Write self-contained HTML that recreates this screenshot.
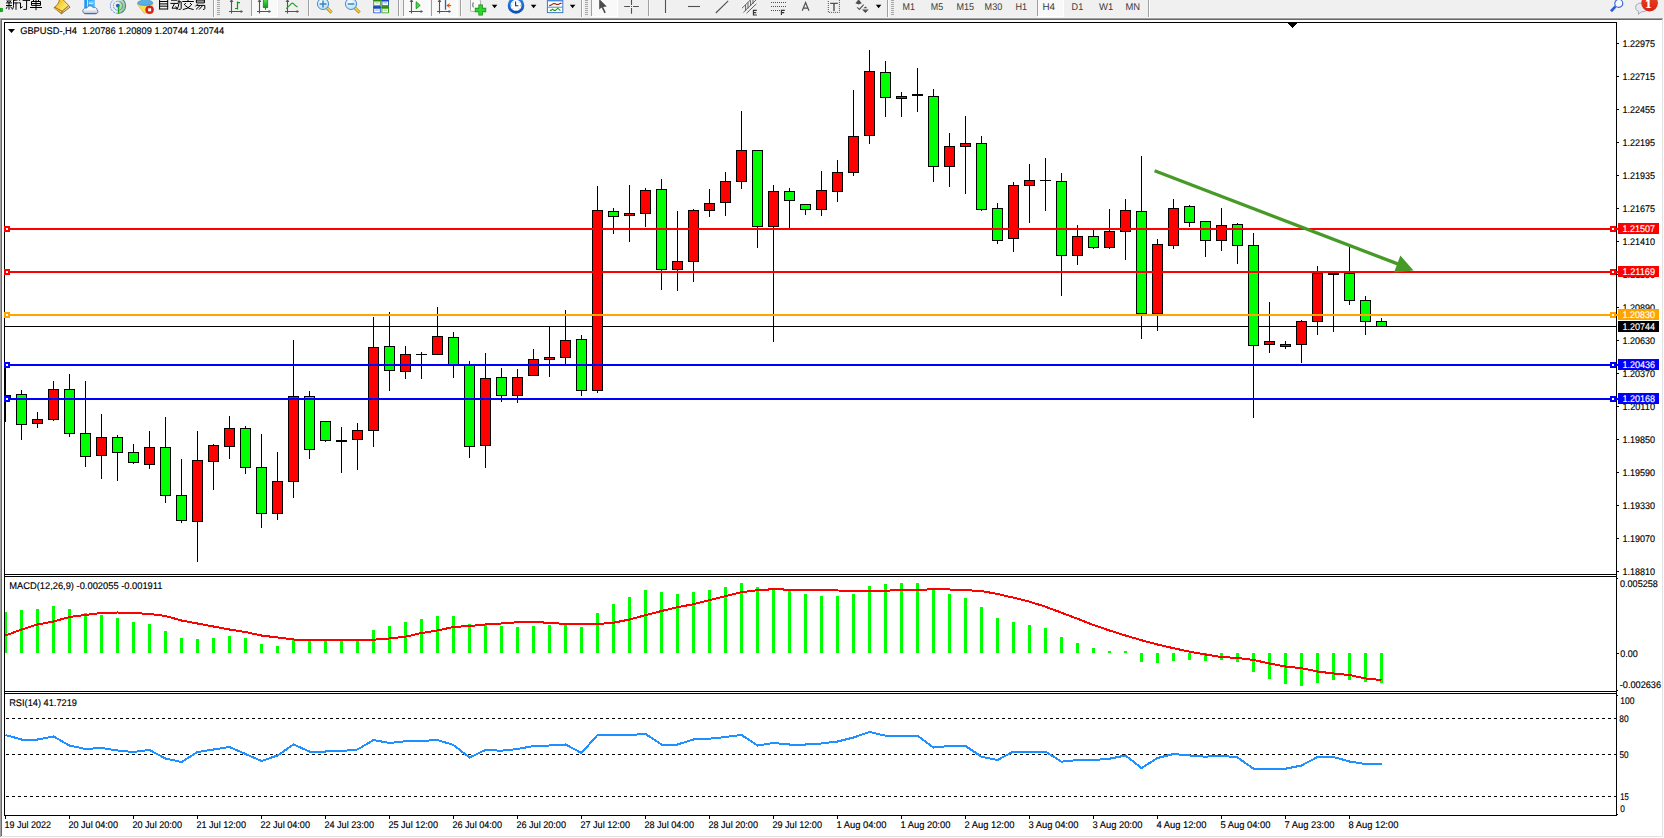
<!DOCTYPE html>
<html><head><meta charset="utf-8"><title>GBPUSD H4</title>
<style>
html,body{margin:0;padding:0;background:#fff;width:1664px;height:838px;overflow:hidden}
svg{display:block;position:absolute;left:0;top:0;font-family:"Liberation Sans",sans-serif}
text{text-rendering:geometricPrecision;paint-order:stroke;stroke-width:0.15px}
</style></head><body>
<svg width="1664" height="838" viewBox="0 0 1664 838" shape-rendering="crispEdges">
<rect x="0" y="0" width="1664" height="838" fill="#fff"/>
<rect x="0" y="0" width="1664" height="17" fill="#f0f0f0"/>
<rect x="0" y="17" width="1664" height="1" fill="#f4f4f4"/>
<rect x="0" y="18" width="1663" height="1" fill="#a0a0a0"/>
<rect x="1" y="19" width="1661" height="1" fill="#696969"/>
<rect x="0" y="19" width="1" height="818" fill="#a0a0a0"/>
<rect x="1" y="20" width="1" height="816" fill="#696969"/>
<rect x="1662" y="19" width="1" height="818" fill="#e3e3e3"/>
<rect x="1663" y="18" width="1" height="820" fill="#fff"/>
<rect x="1" y="836" width="1662" height="1" fill="#e3e3e3"/>
<rect x="0" y="837" width="1664" height="1" fill="#fff"/>
<rect x="4" y="22" width="1613" height="1" fill="#000"/>
<rect x="4" y="574" width="1613" height="1" fill="#000"/>
<rect x="4" y="576" width="1613" height="1" fill="#000"/>
<rect x="4" y="691" width="1613" height="1" fill="#000"/>
<rect x="4" y="693" width="1613" height="1" fill="#000"/>
<rect x="4" y="815" width="1613" height="1" fill="#000"/>
<rect x="4" y="22" width="1" height="794" fill="#000"/>
<rect x="1616" y="22" width="1" height="794" fill="#000"/>
<rect x="1288" y="23" width="9" height="1" fill="#000"/>
<rect x="1289" y="24" width="7" height="1" fill="#000"/>
<rect x="1290" y="25" width="5" height="1" fill="#000"/>
<rect x="1291" y="26" width="3" height="1" fill="#000"/>
<rect x="1292" y="27" width="1" height="1" fill="#000"/>
<rect x="6" y="718" width="3" height="1" fill="#000"/>
<rect x="12" y="718" width="3" height="1" fill="#000"/>
<rect x="18" y="718" width="3" height="1" fill="#000"/>
<rect x="24" y="718" width="3" height="1" fill="#000"/>
<rect x="30" y="718" width="3" height="1" fill="#000"/>
<rect x="36" y="718" width="3" height="1" fill="#000"/>
<rect x="42" y="718" width="3" height="1" fill="#000"/>
<rect x="48" y="718" width="3" height="1" fill="#000"/>
<rect x="54" y="718" width="3" height="1" fill="#000"/>
<rect x="60" y="718" width="3" height="1" fill="#000"/>
<rect x="66" y="718" width="3" height="1" fill="#000"/>
<rect x="72" y="718" width="3" height="1" fill="#000"/>
<rect x="78" y="718" width="3" height="1" fill="#000"/>
<rect x="84" y="718" width="3" height="1" fill="#000"/>
<rect x="90" y="718" width="3" height="1" fill="#000"/>
<rect x="96" y="718" width="3" height="1" fill="#000"/>
<rect x="102" y="718" width="3" height="1" fill="#000"/>
<rect x="108" y="718" width="3" height="1" fill="#000"/>
<rect x="114" y="718" width="3" height="1" fill="#000"/>
<rect x="120" y="718" width="3" height="1" fill="#000"/>
<rect x="126" y="718" width="3" height="1" fill="#000"/>
<rect x="132" y="718" width="3" height="1" fill="#000"/>
<rect x="138" y="718" width="3" height="1" fill="#000"/>
<rect x="144" y="718" width="3" height="1" fill="#000"/>
<rect x="150" y="718" width="3" height="1" fill="#000"/>
<rect x="156" y="718" width="3" height="1" fill="#000"/>
<rect x="162" y="718" width="3" height="1" fill="#000"/>
<rect x="168" y="718" width="3" height="1" fill="#000"/>
<rect x="174" y="718" width="3" height="1" fill="#000"/>
<rect x="180" y="718" width="3" height="1" fill="#000"/>
<rect x="186" y="718" width="3" height="1" fill="#000"/>
<rect x="192" y="718" width="3" height="1" fill="#000"/>
<rect x="198" y="718" width="3" height="1" fill="#000"/>
<rect x="204" y="718" width="3" height="1" fill="#000"/>
<rect x="210" y="718" width="3" height="1" fill="#000"/>
<rect x="216" y="718" width="3" height="1" fill="#000"/>
<rect x="222" y="718" width="3" height="1" fill="#000"/>
<rect x="228" y="718" width="3" height="1" fill="#000"/>
<rect x="234" y="718" width="3" height="1" fill="#000"/>
<rect x="240" y="718" width="3" height="1" fill="#000"/>
<rect x="246" y="718" width="3" height="1" fill="#000"/>
<rect x="252" y="718" width="3" height="1" fill="#000"/>
<rect x="258" y="718" width="3" height="1" fill="#000"/>
<rect x="264" y="718" width="3" height="1" fill="#000"/>
<rect x="270" y="718" width="3" height="1" fill="#000"/>
<rect x="276" y="718" width="3" height="1" fill="#000"/>
<rect x="282" y="718" width="3" height="1" fill="#000"/>
<rect x="288" y="718" width="3" height="1" fill="#000"/>
<rect x="294" y="718" width="3" height="1" fill="#000"/>
<rect x="300" y="718" width="3" height="1" fill="#000"/>
<rect x="306" y="718" width="3" height="1" fill="#000"/>
<rect x="312" y="718" width="3" height="1" fill="#000"/>
<rect x="318" y="718" width="3" height="1" fill="#000"/>
<rect x="324" y="718" width="3" height="1" fill="#000"/>
<rect x="330" y="718" width="3" height="1" fill="#000"/>
<rect x="336" y="718" width="3" height="1" fill="#000"/>
<rect x="342" y="718" width="3" height="1" fill="#000"/>
<rect x="348" y="718" width="3" height="1" fill="#000"/>
<rect x="354" y="718" width="3" height="1" fill="#000"/>
<rect x="360" y="718" width="3" height="1" fill="#000"/>
<rect x="366" y="718" width="3" height="1" fill="#000"/>
<rect x="372" y="718" width="3" height="1" fill="#000"/>
<rect x="378" y="718" width="3" height="1" fill="#000"/>
<rect x="384" y="718" width="3" height="1" fill="#000"/>
<rect x="390" y="718" width="3" height="1" fill="#000"/>
<rect x="396" y="718" width="3" height="1" fill="#000"/>
<rect x="402" y="718" width="3" height="1" fill="#000"/>
<rect x="408" y="718" width="3" height="1" fill="#000"/>
<rect x="414" y="718" width="3" height="1" fill="#000"/>
<rect x="420" y="718" width="3" height="1" fill="#000"/>
<rect x="426" y="718" width="3" height="1" fill="#000"/>
<rect x="432" y="718" width="3" height="1" fill="#000"/>
<rect x="438" y="718" width="3" height="1" fill="#000"/>
<rect x="444" y="718" width="3" height="1" fill="#000"/>
<rect x="450" y="718" width="3" height="1" fill="#000"/>
<rect x="456" y="718" width="3" height="1" fill="#000"/>
<rect x="462" y="718" width="3" height="1" fill="#000"/>
<rect x="468" y="718" width="3" height="1" fill="#000"/>
<rect x="474" y="718" width="3" height="1" fill="#000"/>
<rect x="480" y="718" width="3" height="1" fill="#000"/>
<rect x="486" y="718" width="3" height="1" fill="#000"/>
<rect x="492" y="718" width="3" height="1" fill="#000"/>
<rect x="498" y="718" width="3" height="1" fill="#000"/>
<rect x="504" y="718" width="3" height="1" fill="#000"/>
<rect x="510" y="718" width="3" height="1" fill="#000"/>
<rect x="516" y="718" width="3" height="1" fill="#000"/>
<rect x="522" y="718" width="3" height="1" fill="#000"/>
<rect x="528" y="718" width="3" height="1" fill="#000"/>
<rect x="534" y="718" width="3" height="1" fill="#000"/>
<rect x="540" y="718" width="3" height="1" fill="#000"/>
<rect x="546" y="718" width="3" height="1" fill="#000"/>
<rect x="552" y="718" width="3" height="1" fill="#000"/>
<rect x="558" y="718" width="3" height="1" fill="#000"/>
<rect x="564" y="718" width="3" height="1" fill="#000"/>
<rect x="570" y="718" width="3" height="1" fill="#000"/>
<rect x="576" y="718" width="3" height="1" fill="#000"/>
<rect x="582" y="718" width="3" height="1" fill="#000"/>
<rect x="588" y="718" width="3" height="1" fill="#000"/>
<rect x="594" y="718" width="3" height="1" fill="#000"/>
<rect x="600" y="718" width="3" height="1" fill="#000"/>
<rect x="606" y="718" width="3" height="1" fill="#000"/>
<rect x="612" y="718" width="3" height="1" fill="#000"/>
<rect x="618" y="718" width="3" height="1" fill="#000"/>
<rect x="624" y="718" width="3" height="1" fill="#000"/>
<rect x="630" y="718" width="3" height="1" fill="#000"/>
<rect x="636" y="718" width="3" height="1" fill="#000"/>
<rect x="642" y="718" width="3" height="1" fill="#000"/>
<rect x="648" y="718" width="3" height="1" fill="#000"/>
<rect x="654" y="718" width="3" height="1" fill="#000"/>
<rect x="660" y="718" width="3" height="1" fill="#000"/>
<rect x="666" y="718" width="3" height="1" fill="#000"/>
<rect x="672" y="718" width="3" height="1" fill="#000"/>
<rect x="678" y="718" width="3" height="1" fill="#000"/>
<rect x="684" y="718" width="3" height="1" fill="#000"/>
<rect x="690" y="718" width="3" height="1" fill="#000"/>
<rect x="696" y="718" width="3" height="1" fill="#000"/>
<rect x="702" y="718" width="3" height="1" fill="#000"/>
<rect x="708" y="718" width="3" height="1" fill="#000"/>
<rect x="714" y="718" width="3" height="1" fill="#000"/>
<rect x="720" y="718" width="3" height="1" fill="#000"/>
<rect x="726" y="718" width="3" height="1" fill="#000"/>
<rect x="732" y="718" width="3" height="1" fill="#000"/>
<rect x="738" y="718" width="3" height="1" fill="#000"/>
<rect x="744" y="718" width="3" height="1" fill="#000"/>
<rect x="750" y="718" width="3" height="1" fill="#000"/>
<rect x="756" y="718" width="3" height="1" fill="#000"/>
<rect x="762" y="718" width="3" height="1" fill="#000"/>
<rect x="768" y="718" width="3" height="1" fill="#000"/>
<rect x="774" y="718" width="3" height="1" fill="#000"/>
<rect x="780" y="718" width="3" height="1" fill="#000"/>
<rect x="786" y="718" width="3" height="1" fill="#000"/>
<rect x="792" y="718" width="3" height="1" fill="#000"/>
<rect x="798" y="718" width="3" height="1" fill="#000"/>
<rect x="804" y="718" width="3" height="1" fill="#000"/>
<rect x="810" y="718" width="3" height="1" fill="#000"/>
<rect x="816" y="718" width="3" height="1" fill="#000"/>
<rect x="822" y="718" width="3" height="1" fill="#000"/>
<rect x="828" y="718" width="3" height="1" fill="#000"/>
<rect x="834" y="718" width="3" height="1" fill="#000"/>
<rect x="840" y="718" width="3" height="1" fill="#000"/>
<rect x="846" y="718" width="3" height="1" fill="#000"/>
<rect x="852" y="718" width="3" height="1" fill="#000"/>
<rect x="858" y="718" width="3" height="1" fill="#000"/>
<rect x="864" y="718" width="3" height="1" fill="#000"/>
<rect x="870" y="718" width="3" height="1" fill="#000"/>
<rect x="876" y="718" width="3" height="1" fill="#000"/>
<rect x="882" y="718" width="3" height="1" fill="#000"/>
<rect x="888" y="718" width="3" height="1" fill="#000"/>
<rect x="894" y="718" width="3" height="1" fill="#000"/>
<rect x="900" y="718" width="3" height="1" fill="#000"/>
<rect x="906" y="718" width="3" height="1" fill="#000"/>
<rect x="912" y="718" width="3" height="1" fill="#000"/>
<rect x="918" y="718" width="3" height="1" fill="#000"/>
<rect x="924" y="718" width="3" height="1" fill="#000"/>
<rect x="930" y="718" width="3" height="1" fill="#000"/>
<rect x="936" y="718" width="3" height="1" fill="#000"/>
<rect x="942" y="718" width="3" height="1" fill="#000"/>
<rect x="948" y="718" width="3" height="1" fill="#000"/>
<rect x="954" y="718" width="3" height="1" fill="#000"/>
<rect x="960" y="718" width="3" height="1" fill="#000"/>
<rect x="966" y="718" width="3" height="1" fill="#000"/>
<rect x="972" y="718" width="3" height="1" fill="#000"/>
<rect x="978" y="718" width="3" height="1" fill="#000"/>
<rect x="984" y="718" width="3" height="1" fill="#000"/>
<rect x="990" y="718" width="3" height="1" fill="#000"/>
<rect x="996" y="718" width="3" height="1" fill="#000"/>
<rect x="1002" y="718" width="3" height="1" fill="#000"/>
<rect x="1008" y="718" width="3" height="1" fill="#000"/>
<rect x="1014" y="718" width="3" height="1" fill="#000"/>
<rect x="1020" y="718" width="3" height="1" fill="#000"/>
<rect x="1026" y="718" width="3" height="1" fill="#000"/>
<rect x="1032" y="718" width="3" height="1" fill="#000"/>
<rect x="1038" y="718" width="3" height="1" fill="#000"/>
<rect x="1044" y="718" width="3" height="1" fill="#000"/>
<rect x="1050" y="718" width="3" height="1" fill="#000"/>
<rect x="1056" y="718" width="3" height="1" fill="#000"/>
<rect x="1062" y="718" width="3" height="1" fill="#000"/>
<rect x="1068" y="718" width="3" height="1" fill="#000"/>
<rect x="1074" y="718" width="3" height="1" fill="#000"/>
<rect x="1080" y="718" width="3" height="1" fill="#000"/>
<rect x="1086" y="718" width="3" height="1" fill="#000"/>
<rect x="1092" y="718" width="3" height="1" fill="#000"/>
<rect x="1098" y="718" width="3" height="1" fill="#000"/>
<rect x="1104" y="718" width="3" height="1" fill="#000"/>
<rect x="1110" y="718" width="3" height="1" fill="#000"/>
<rect x="1116" y="718" width="3" height="1" fill="#000"/>
<rect x="1122" y="718" width="3" height="1" fill="#000"/>
<rect x="1128" y="718" width="3" height="1" fill="#000"/>
<rect x="1134" y="718" width="3" height="1" fill="#000"/>
<rect x="1140" y="718" width="3" height="1" fill="#000"/>
<rect x="1146" y="718" width="3" height="1" fill="#000"/>
<rect x="1152" y="718" width="3" height="1" fill="#000"/>
<rect x="1158" y="718" width="3" height="1" fill="#000"/>
<rect x="1164" y="718" width="3" height="1" fill="#000"/>
<rect x="1170" y="718" width="3" height="1" fill="#000"/>
<rect x="1176" y="718" width="3" height="1" fill="#000"/>
<rect x="1182" y="718" width="3" height="1" fill="#000"/>
<rect x="1188" y="718" width="3" height="1" fill="#000"/>
<rect x="1194" y="718" width="3" height="1" fill="#000"/>
<rect x="1200" y="718" width="3" height="1" fill="#000"/>
<rect x="1206" y="718" width="3" height="1" fill="#000"/>
<rect x="1212" y="718" width="3" height="1" fill="#000"/>
<rect x="1218" y="718" width="3" height="1" fill="#000"/>
<rect x="1224" y="718" width="3" height="1" fill="#000"/>
<rect x="1230" y="718" width="3" height="1" fill="#000"/>
<rect x="1236" y="718" width="3" height="1" fill="#000"/>
<rect x="1242" y="718" width="3" height="1" fill="#000"/>
<rect x="1248" y="718" width="3" height="1" fill="#000"/>
<rect x="1254" y="718" width="3" height="1" fill="#000"/>
<rect x="1260" y="718" width="3" height="1" fill="#000"/>
<rect x="1266" y="718" width="3" height="1" fill="#000"/>
<rect x="1272" y="718" width="3" height="1" fill="#000"/>
<rect x="1278" y="718" width="3" height="1" fill="#000"/>
<rect x="1284" y="718" width="3" height="1" fill="#000"/>
<rect x="1290" y="718" width="3" height="1" fill="#000"/>
<rect x="1296" y="718" width="3" height="1" fill="#000"/>
<rect x="1302" y="718" width="3" height="1" fill="#000"/>
<rect x="1308" y="718" width="3" height="1" fill="#000"/>
<rect x="1314" y="718" width="3" height="1" fill="#000"/>
<rect x="1320" y="718" width="3" height="1" fill="#000"/>
<rect x="1326" y="718" width="3" height="1" fill="#000"/>
<rect x="1332" y="718" width="3" height="1" fill="#000"/>
<rect x="1338" y="718" width="3" height="1" fill="#000"/>
<rect x="1344" y="718" width="3" height="1" fill="#000"/>
<rect x="1350" y="718" width="3" height="1" fill="#000"/>
<rect x="1356" y="718" width="3" height="1" fill="#000"/>
<rect x="1362" y="718" width="3" height="1" fill="#000"/>
<rect x="1368" y="718" width="3" height="1" fill="#000"/>
<rect x="1374" y="718" width="3" height="1" fill="#000"/>
<rect x="1380" y="718" width="3" height="1" fill="#000"/>
<rect x="1386" y="718" width="3" height="1" fill="#000"/>
<rect x="1392" y="718" width="3" height="1" fill="#000"/>
<rect x="1398" y="718" width="3" height="1" fill="#000"/>
<rect x="1404" y="718" width="3" height="1" fill="#000"/>
<rect x="1410" y="718" width="3" height="1" fill="#000"/>
<rect x="1416" y="718" width="3" height="1" fill="#000"/>
<rect x="1422" y="718" width="3" height="1" fill="#000"/>
<rect x="1428" y="718" width="3" height="1" fill="#000"/>
<rect x="1434" y="718" width="3" height="1" fill="#000"/>
<rect x="1440" y="718" width="3" height="1" fill="#000"/>
<rect x="1446" y="718" width="3" height="1" fill="#000"/>
<rect x="1452" y="718" width="3" height="1" fill="#000"/>
<rect x="1458" y="718" width="3" height="1" fill="#000"/>
<rect x="1464" y="718" width="3" height="1" fill="#000"/>
<rect x="1470" y="718" width="3" height="1" fill="#000"/>
<rect x="1476" y="718" width="3" height="1" fill="#000"/>
<rect x="1482" y="718" width="3" height="1" fill="#000"/>
<rect x="1488" y="718" width="3" height="1" fill="#000"/>
<rect x="1494" y="718" width="3" height="1" fill="#000"/>
<rect x="1500" y="718" width="3" height="1" fill="#000"/>
<rect x="1506" y="718" width="3" height="1" fill="#000"/>
<rect x="1512" y="718" width="3" height="1" fill="#000"/>
<rect x="1518" y="718" width="3" height="1" fill="#000"/>
<rect x="1524" y="718" width="3" height="1" fill="#000"/>
<rect x="1530" y="718" width="3" height="1" fill="#000"/>
<rect x="1536" y="718" width="3" height="1" fill="#000"/>
<rect x="1542" y="718" width="3" height="1" fill="#000"/>
<rect x="1548" y="718" width="3" height="1" fill="#000"/>
<rect x="1554" y="718" width="3" height="1" fill="#000"/>
<rect x="1560" y="718" width="3" height="1" fill="#000"/>
<rect x="1566" y="718" width="3" height="1" fill="#000"/>
<rect x="1572" y="718" width="3" height="1" fill="#000"/>
<rect x="1578" y="718" width="3" height="1" fill="#000"/>
<rect x="1584" y="718" width="3" height="1" fill="#000"/>
<rect x="1590" y="718" width="3" height="1" fill="#000"/>
<rect x="1596" y="718" width="3" height="1" fill="#000"/>
<rect x="1602" y="718" width="3" height="1" fill="#000"/>
<rect x="1608" y="718" width="3" height="1" fill="#000"/>
<rect x="1614" y="718" width="2" height="1" fill="#000"/>
<rect x="6" y="754" width="3" height="1" fill="#000"/>
<rect x="12" y="754" width="3" height="1" fill="#000"/>
<rect x="18" y="754" width="3" height="1" fill="#000"/>
<rect x="24" y="754" width="3" height="1" fill="#000"/>
<rect x="30" y="754" width="3" height="1" fill="#000"/>
<rect x="36" y="754" width="3" height="1" fill="#000"/>
<rect x="42" y="754" width="3" height="1" fill="#000"/>
<rect x="48" y="754" width="3" height="1" fill="#000"/>
<rect x="54" y="754" width="3" height="1" fill="#000"/>
<rect x="60" y="754" width="3" height="1" fill="#000"/>
<rect x="66" y="754" width="3" height="1" fill="#000"/>
<rect x="72" y="754" width="3" height="1" fill="#000"/>
<rect x="78" y="754" width="3" height="1" fill="#000"/>
<rect x="84" y="754" width="3" height="1" fill="#000"/>
<rect x="90" y="754" width="3" height="1" fill="#000"/>
<rect x="96" y="754" width="3" height="1" fill="#000"/>
<rect x="102" y="754" width="3" height="1" fill="#000"/>
<rect x="108" y="754" width="3" height="1" fill="#000"/>
<rect x="114" y="754" width="3" height="1" fill="#000"/>
<rect x="120" y="754" width="3" height="1" fill="#000"/>
<rect x="126" y="754" width="3" height="1" fill="#000"/>
<rect x="132" y="754" width="3" height="1" fill="#000"/>
<rect x="138" y="754" width="3" height="1" fill="#000"/>
<rect x="144" y="754" width="3" height="1" fill="#000"/>
<rect x="150" y="754" width="3" height="1" fill="#000"/>
<rect x="156" y="754" width="3" height="1" fill="#000"/>
<rect x="162" y="754" width="3" height="1" fill="#000"/>
<rect x="168" y="754" width="3" height="1" fill="#000"/>
<rect x="174" y="754" width="3" height="1" fill="#000"/>
<rect x="180" y="754" width="3" height="1" fill="#000"/>
<rect x="186" y="754" width="3" height="1" fill="#000"/>
<rect x="192" y="754" width="3" height="1" fill="#000"/>
<rect x="198" y="754" width="3" height="1" fill="#000"/>
<rect x="204" y="754" width="3" height="1" fill="#000"/>
<rect x="210" y="754" width="3" height="1" fill="#000"/>
<rect x="216" y="754" width="3" height="1" fill="#000"/>
<rect x="222" y="754" width="3" height="1" fill="#000"/>
<rect x="228" y="754" width="3" height="1" fill="#000"/>
<rect x="234" y="754" width="3" height="1" fill="#000"/>
<rect x="240" y="754" width="3" height="1" fill="#000"/>
<rect x="246" y="754" width="3" height="1" fill="#000"/>
<rect x="252" y="754" width="3" height="1" fill="#000"/>
<rect x="258" y="754" width="3" height="1" fill="#000"/>
<rect x="264" y="754" width="3" height="1" fill="#000"/>
<rect x="270" y="754" width="3" height="1" fill="#000"/>
<rect x="276" y="754" width="3" height="1" fill="#000"/>
<rect x="282" y="754" width="3" height="1" fill="#000"/>
<rect x="288" y="754" width="3" height="1" fill="#000"/>
<rect x="294" y="754" width="3" height="1" fill="#000"/>
<rect x="300" y="754" width="3" height="1" fill="#000"/>
<rect x="306" y="754" width="3" height="1" fill="#000"/>
<rect x="312" y="754" width="3" height="1" fill="#000"/>
<rect x="318" y="754" width="3" height="1" fill="#000"/>
<rect x="324" y="754" width="3" height="1" fill="#000"/>
<rect x="330" y="754" width="3" height="1" fill="#000"/>
<rect x="336" y="754" width="3" height="1" fill="#000"/>
<rect x="342" y="754" width="3" height="1" fill="#000"/>
<rect x="348" y="754" width="3" height="1" fill="#000"/>
<rect x="354" y="754" width="3" height="1" fill="#000"/>
<rect x="360" y="754" width="3" height="1" fill="#000"/>
<rect x="366" y="754" width="3" height="1" fill="#000"/>
<rect x="372" y="754" width="3" height="1" fill="#000"/>
<rect x="378" y="754" width="3" height="1" fill="#000"/>
<rect x="384" y="754" width="3" height="1" fill="#000"/>
<rect x="390" y="754" width="3" height="1" fill="#000"/>
<rect x="396" y="754" width="3" height="1" fill="#000"/>
<rect x="402" y="754" width="3" height="1" fill="#000"/>
<rect x="408" y="754" width="3" height="1" fill="#000"/>
<rect x="414" y="754" width="3" height="1" fill="#000"/>
<rect x="420" y="754" width="3" height="1" fill="#000"/>
<rect x="426" y="754" width="3" height="1" fill="#000"/>
<rect x="432" y="754" width="3" height="1" fill="#000"/>
<rect x="438" y="754" width="3" height="1" fill="#000"/>
<rect x="444" y="754" width="3" height="1" fill="#000"/>
<rect x="450" y="754" width="3" height="1" fill="#000"/>
<rect x="456" y="754" width="3" height="1" fill="#000"/>
<rect x="462" y="754" width="3" height="1" fill="#000"/>
<rect x="468" y="754" width="3" height="1" fill="#000"/>
<rect x="474" y="754" width="3" height="1" fill="#000"/>
<rect x="480" y="754" width="3" height="1" fill="#000"/>
<rect x="486" y="754" width="3" height="1" fill="#000"/>
<rect x="492" y="754" width="3" height="1" fill="#000"/>
<rect x="498" y="754" width="3" height="1" fill="#000"/>
<rect x="504" y="754" width="3" height="1" fill="#000"/>
<rect x="510" y="754" width="3" height="1" fill="#000"/>
<rect x="516" y="754" width="3" height="1" fill="#000"/>
<rect x="522" y="754" width="3" height="1" fill="#000"/>
<rect x="528" y="754" width="3" height="1" fill="#000"/>
<rect x="534" y="754" width="3" height="1" fill="#000"/>
<rect x="540" y="754" width="3" height="1" fill="#000"/>
<rect x="546" y="754" width="3" height="1" fill="#000"/>
<rect x="552" y="754" width="3" height="1" fill="#000"/>
<rect x="558" y="754" width="3" height="1" fill="#000"/>
<rect x="564" y="754" width="3" height="1" fill="#000"/>
<rect x="570" y="754" width="3" height="1" fill="#000"/>
<rect x="576" y="754" width="3" height="1" fill="#000"/>
<rect x="582" y="754" width="3" height="1" fill="#000"/>
<rect x="588" y="754" width="3" height="1" fill="#000"/>
<rect x="594" y="754" width="3" height="1" fill="#000"/>
<rect x="600" y="754" width="3" height="1" fill="#000"/>
<rect x="606" y="754" width="3" height="1" fill="#000"/>
<rect x="612" y="754" width="3" height="1" fill="#000"/>
<rect x="618" y="754" width="3" height="1" fill="#000"/>
<rect x="624" y="754" width="3" height="1" fill="#000"/>
<rect x="630" y="754" width="3" height="1" fill="#000"/>
<rect x="636" y="754" width="3" height="1" fill="#000"/>
<rect x="642" y="754" width="3" height="1" fill="#000"/>
<rect x="648" y="754" width="3" height="1" fill="#000"/>
<rect x="654" y="754" width="3" height="1" fill="#000"/>
<rect x="660" y="754" width="3" height="1" fill="#000"/>
<rect x="666" y="754" width="3" height="1" fill="#000"/>
<rect x="672" y="754" width="3" height="1" fill="#000"/>
<rect x="678" y="754" width="3" height="1" fill="#000"/>
<rect x="684" y="754" width="3" height="1" fill="#000"/>
<rect x="690" y="754" width="3" height="1" fill="#000"/>
<rect x="696" y="754" width="3" height="1" fill="#000"/>
<rect x="702" y="754" width="3" height="1" fill="#000"/>
<rect x="708" y="754" width="3" height="1" fill="#000"/>
<rect x="714" y="754" width="3" height="1" fill="#000"/>
<rect x="720" y="754" width="3" height="1" fill="#000"/>
<rect x="726" y="754" width="3" height="1" fill="#000"/>
<rect x="732" y="754" width="3" height="1" fill="#000"/>
<rect x="738" y="754" width="3" height="1" fill="#000"/>
<rect x="744" y="754" width="3" height="1" fill="#000"/>
<rect x="750" y="754" width="3" height="1" fill="#000"/>
<rect x="756" y="754" width="3" height="1" fill="#000"/>
<rect x="762" y="754" width="3" height="1" fill="#000"/>
<rect x="768" y="754" width="3" height="1" fill="#000"/>
<rect x="774" y="754" width="3" height="1" fill="#000"/>
<rect x="780" y="754" width="3" height="1" fill="#000"/>
<rect x="786" y="754" width="3" height="1" fill="#000"/>
<rect x="792" y="754" width="3" height="1" fill="#000"/>
<rect x="798" y="754" width="3" height="1" fill="#000"/>
<rect x="804" y="754" width="3" height="1" fill="#000"/>
<rect x="810" y="754" width="3" height="1" fill="#000"/>
<rect x="816" y="754" width="3" height="1" fill="#000"/>
<rect x="822" y="754" width="3" height="1" fill="#000"/>
<rect x="828" y="754" width="3" height="1" fill="#000"/>
<rect x="834" y="754" width="3" height="1" fill="#000"/>
<rect x="840" y="754" width="3" height="1" fill="#000"/>
<rect x="846" y="754" width="3" height="1" fill="#000"/>
<rect x="852" y="754" width="3" height="1" fill="#000"/>
<rect x="858" y="754" width="3" height="1" fill="#000"/>
<rect x="864" y="754" width="3" height="1" fill="#000"/>
<rect x="870" y="754" width="3" height="1" fill="#000"/>
<rect x="876" y="754" width="3" height="1" fill="#000"/>
<rect x="882" y="754" width="3" height="1" fill="#000"/>
<rect x="888" y="754" width="3" height="1" fill="#000"/>
<rect x="894" y="754" width="3" height="1" fill="#000"/>
<rect x="900" y="754" width="3" height="1" fill="#000"/>
<rect x="906" y="754" width="3" height="1" fill="#000"/>
<rect x="912" y="754" width="3" height="1" fill="#000"/>
<rect x="918" y="754" width="3" height="1" fill="#000"/>
<rect x="924" y="754" width="3" height="1" fill="#000"/>
<rect x="930" y="754" width="3" height="1" fill="#000"/>
<rect x="936" y="754" width="3" height="1" fill="#000"/>
<rect x="942" y="754" width="3" height="1" fill="#000"/>
<rect x="948" y="754" width="3" height="1" fill="#000"/>
<rect x="954" y="754" width="3" height="1" fill="#000"/>
<rect x="960" y="754" width="3" height="1" fill="#000"/>
<rect x="966" y="754" width="3" height="1" fill="#000"/>
<rect x="972" y="754" width="3" height="1" fill="#000"/>
<rect x="978" y="754" width="3" height="1" fill="#000"/>
<rect x="984" y="754" width="3" height="1" fill="#000"/>
<rect x="990" y="754" width="3" height="1" fill="#000"/>
<rect x="996" y="754" width="3" height="1" fill="#000"/>
<rect x="1002" y="754" width="3" height="1" fill="#000"/>
<rect x="1008" y="754" width="3" height="1" fill="#000"/>
<rect x="1014" y="754" width="3" height="1" fill="#000"/>
<rect x="1020" y="754" width="3" height="1" fill="#000"/>
<rect x="1026" y="754" width="3" height="1" fill="#000"/>
<rect x="1032" y="754" width="3" height="1" fill="#000"/>
<rect x="1038" y="754" width="3" height="1" fill="#000"/>
<rect x="1044" y="754" width="3" height="1" fill="#000"/>
<rect x="1050" y="754" width="3" height="1" fill="#000"/>
<rect x="1056" y="754" width="3" height="1" fill="#000"/>
<rect x="1062" y="754" width="3" height="1" fill="#000"/>
<rect x="1068" y="754" width="3" height="1" fill="#000"/>
<rect x="1074" y="754" width="3" height="1" fill="#000"/>
<rect x="1080" y="754" width="3" height="1" fill="#000"/>
<rect x="1086" y="754" width="3" height="1" fill="#000"/>
<rect x="1092" y="754" width="3" height="1" fill="#000"/>
<rect x="1098" y="754" width="3" height="1" fill="#000"/>
<rect x="1104" y="754" width="3" height="1" fill="#000"/>
<rect x="1110" y="754" width="3" height="1" fill="#000"/>
<rect x="1116" y="754" width="3" height="1" fill="#000"/>
<rect x="1122" y="754" width="3" height="1" fill="#000"/>
<rect x="1128" y="754" width="3" height="1" fill="#000"/>
<rect x="1134" y="754" width="3" height="1" fill="#000"/>
<rect x="1140" y="754" width="3" height="1" fill="#000"/>
<rect x="1146" y="754" width="3" height="1" fill="#000"/>
<rect x="1152" y="754" width="3" height="1" fill="#000"/>
<rect x="1158" y="754" width="3" height="1" fill="#000"/>
<rect x="1164" y="754" width="3" height="1" fill="#000"/>
<rect x="1170" y="754" width="3" height="1" fill="#000"/>
<rect x="1176" y="754" width="3" height="1" fill="#000"/>
<rect x="1182" y="754" width="3" height="1" fill="#000"/>
<rect x="1188" y="754" width="3" height="1" fill="#000"/>
<rect x="1194" y="754" width="3" height="1" fill="#000"/>
<rect x="1200" y="754" width="3" height="1" fill="#000"/>
<rect x="1206" y="754" width="3" height="1" fill="#000"/>
<rect x="1212" y="754" width="3" height="1" fill="#000"/>
<rect x="1218" y="754" width="3" height="1" fill="#000"/>
<rect x="1224" y="754" width="3" height="1" fill="#000"/>
<rect x="1230" y="754" width="3" height="1" fill="#000"/>
<rect x="1236" y="754" width="3" height="1" fill="#000"/>
<rect x="1242" y="754" width="3" height="1" fill="#000"/>
<rect x="1248" y="754" width="3" height="1" fill="#000"/>
<rect x="1254" y="754" width="3" height="1" fill="#000"/>
<rect x="1260" y="754" width="3" height="1" fill="#000"/>
<rect x="1266" y="754" width="3" height="1" fill="#000"/>
<rect x="1272" y="754" width="3" height="1" fill="#000"/>
<rect x="1278" y="754" width="3" height="1" fill="#000"/>
<rect x="1284" y="754" width="3" height="1" fill="#000"/>
<rect x="1290" y="754" width="3" height="1" fill="#000"/>
<rect x="1296" y="754" width="3" height="1" fill="#000"/>
<rect x="1302" y="754" width="3" height="1" fill="#000"/>
<rect x="1308" y="754" width="3" height="1" fill="#000"/>
<rect x="1314" y="754" width="3" height="1" fill="#000"/>
<rect x="1320" y="754" width="3" height="1" fill="#000"/>
<rect x="1326" y="754" width="3" height="1" fill="#000"/>
<rect x="1332" y="754" width="3" height="1" fill="#000"/>
<rect x="1338" y="754" width="3" height="1" fill="#000"/>
<rect x="1344" y="754" width="3" height="1" fill="#000"/>
<rect x="1350" y="754" width="3" height="1" fill="#000"/>
<rect x="1356" y="754" width="3" height="1" fill="#000"/>
<rect x="1362" y="754" width="3" height="1" fill="#000"/>
<rect x="1368" y="754" width="3" height="1" fill="#000"/>
<rect x="1374" y="754" width="3" height="1" fill="#000"/>
<rect x="1380" y="754" width="3" height="1" fill="#000"/>
<rect x="1386" y="754" width="3" height="1" fill="#000"/>
<rect x="1392" y="754" width="3" height="1" fill="#000"/>
<rect x="1398" y="754" width="3" height="1" fill="#000"/>
<rect x="1404" y="754" width="3" height="1" fill="#000"/>
<rect x="1410" y="754" width="3" height="1" fill="#000"/>
<rect x="1416" y="754" width="3" height="1" fill="#000"/>
<rect x="1422" y="754" width="3" height="1" fill="#000"/>
<rect x="1428" y="754" width="3" height="1" fill="#000"/>
<rect x="1434" y="754" width="3" height="1" fill="#000"/>
<rect x="1440" y="754" width="3" height="1" fill="#000"/>
<rect x="1446" y="754" width="3" height="1" fill="#000"/>
<rect x="1452" y="754" width="3" height="1" fill="#000"/>
<rect x="1458" y="754" width="3" height="1" fill="#000"/>
<rect x="1464" y="754" width="3" height="1" fill="#000"/>
<rect x="1470" y="754" width="3" height="1" fill="#000"/>
<rect x="1476" y="754" width="3" height="1" fill="#000"/>
<rect x="1482" y="754" width="3" height="1" fill="#000"/>
<rect x="1488" y="754" width="3" height="1" fill="#000"/>
<rect x="1494" y="754" width="3" height="1" fill="#000"/>
<rect x="1500" y="754" width="3" height="1" fill="#000"/>
<rect x="1506" y="754" width="3" height="1" fill="#000"/>
<rect x="1512" y="754" width="3" height="1" fill="#000"/>
<rect x="1518" y="754" width="3" height="1" fill="#000"/>
<rect x="1524" y="754" width="3" height="1" fill="#000"/>
<rect x="1530" y="754" width="3" height="1" fill="#000"/>
<rect x="1536" y="754" width="3" height="1" fill="#000"/>
<rect x="1542" y="754" width="3" height="1" fill="#000"/>
<rect x="1548" y="754" width="3" height="1" fill="#000"/>
<rect x="1554" y="754" width="3" height="1" fill="#000"/>
<rect x="1560" y="754" width="3" height="1" fill="#000"/>
<rect x="1566" y="754" width="3" height="1" fill="#000"/>
<rect x="1572" y="754" width="3" height="1" fill="#000"/>
<rect x="1578" y="754" width="3" height="1" fill="#000"/>
<rect x="1584" y="754" width="3" height="1" fill="#000"/>
<rect x="1590" y="754" width="3" height="1" fill="#000"/>
<rect x="1596" y="754" width="3" height="1" fill="#000"/>
<rect x="1602" y="754" width="3" height="1" fill="#000"/>
<rect x="1608" y="754" width="3" height="1" fill="#000"/>
<rect x="1614" y="754" width="2" height="1" fill="#000"/>
<rect x="6" y="796" width="3" height="1" fill="#000"/>
<rect x="12" y="796" width="3" height="1" fill="#000"/>
<rect x="18" y="796" width="3" height="1" fill="#000"/>
<rect x="24" y="796" width="3" height="1" fill="#000"/>
<rect x="30" y="796" width="3" height="1" fill="#000"/>
<rect x="36" y="796" width="3" height="1" fill="#000"/>
<rect x="42" y="796" width="3" height="1" fill="#000"/>
<rect x="48" y="796" width="3" height="1" fill="#000"/>
<rect x="54" y="796" width="3" height="1" fill="#000"/>
<rect x="60" y="796" width="3" height="1" fill="#000"/>
<rect x="66" y="796" width="3" height="1" fill="#000"/>
<rect x="72" y="796" width="3" height="1" fill="#000"/>
<rect x="78" y="796" width="3" height="1" fill="#000"/>
<rect x="84" y="796" width="3" height="1" fill="#000"/>
<rect x="90" y="796" width="3" height="1" fill="#000"/>
<rect x="96" y="796" width="3" height="1" fill="#000"/>
<rect x="102" y="796" width="3" height="1" fill="#000"/>
<rect x="108" y="796" width="3" height="1" fill="#000"/>
<rect x="114" y="796" width="3" height="1" fill="#000"/>
<rect x="120" y="796" width="3" height="1" fill="#000"/>
<rect x="126" y="796" width="3" height="1" fill="#000"/>
<rect x="132" y="796" width="3" height="1" fill="#000"/>
<rect x="138" y="796" width="3" height="1" fill="#000"/>
<rect x="144" y="796" width="3" height="1" fill="#000"/>
<rect x="150" y="796" width="3" height="1" fill="#000"/>
<rect x="156" y="796" width="3" height="1" fill="#000"/>
<rect x="162" y="796" width="3" height="1" fill="#000"/>
<rect x="168" y="796" width="3" height="1" fill="#000"/>
<rect x="174" y="796" width="3" height="1" fill="#000"/>
<rect x="180" y="796" width="3" height="1" fill="#000"/>
<rect x="186" y="796" width="3" height="1" fill="#000"/>
<rect x="192" y="796" width="3" height="1" fill="#000"/>
<rect x="198" y="796" width="3" height="1" fill="#000"/>
<rect x="204" y="796" width="3" height="1" fill="#000"/>
<rect x="210" y="796" width="3" height="1" fill="#000"/>
<rect x="216" y="796" width="3" height="1" fill="#000"/>
<rect x="222" y="796" width="3" height="1" fill="#000"/>
<rect x="228" y="796" width="3" height="1" fill="#000"/>
<rect x="234" y="796" width="3" height="1" fill="#000"/>
<rect x="240" y="796" width="3" height="1" fill="#000"/>
<rect x="246" y="796" width="3" height="1" fill="#000"/>
<rect x="252" y="796" width="3" height="1" fill="#000"/>
<rect x="258" y="796" width="3" height="1" fill="#000"/>
<rect x="264" y="796" width="3" height="1" fill="#000"/>
<rect x="270" y="796" width="3" height="1" fill="#000"/>
<rect x="276" y="796" width="3" height="1" fill="#000"/>
<rect x="282" y="796" width="3" height="1" fill="#000"/>
<rect x="288" y="796" width="3" height="1" fill="#000"/>
<rect x="294" y="796" width="3" height="1" fill="#000"/>
<rect x="300" y="796" width="3" height="1" fill="#000"/>
<rect x="306" y="796" width="3" height="1" fill="#000"/>
<rect x="312" y="796" width="3" height="1" fill="#000"/>
<rect x="318" y="796" width="3" height="1" fill="#000"/>
<rect x="324" y="796" width="3" height="1" fill="#000"/>
<rect x="330" y="796" width="3" height="1" fill="#000"/>
<rect x="336" y="796" width="3" height="1" fill="#000"/>
<rect x="342" y="796" width="3" height="1" fill="#000"/>
<rect x="348" y="796" width="3" height="1" fill="#000"/>
<rect x="354" y="796" width="3" height="1" fill="#000"/>
<rect x="360" y="796" width="3" height="1" fill="#000"/>
<rect x="366" y="796" width="3" height="1" fill="#000"/>
<rect x="372" y="796" width="3" height="1" fill="#000"/>
<rect x="378" y="796" width="3" height="1" fill="#000"/>
<rect x="384" y="796" width="3" height="1" fill="#000"/>
<rect x="390" y="796" width="3" height="1" fill="#000"/>
<rect x="396" y="796" width="3" height="1" fill="#000"/>
<rect x="402" y="796" width="3" height="1" fill="#000"/>
<rect x="408" y="796" width="3" height="1" fill="#000"/>
<rect x="414" y="796" width="3" height="1" fill="#000"/>
<rect x="420" y="796" width="3" height="1" fill="#000"/>
<rect x="426" y="796" width="3" height="1" fill="#000"/>
<rect x="432" y="796" width="3" height="1" fill="#000"/>
<rect x="438" y="796" width="3" height="1" fill="#000"/>
<rect x="444" y="796" width="3" height="1" fill="#000"/>
<rect x="450" y="796" width="3" height="1" fill="#000"/>
<rect x="456" y="796" width="3" height="1" fill="#000"/>
<rect x="462" y="796" width="3" height="1" fill="#000"/>
<rect x="468" y="796" width="3" height="1" fill="#000"/>
<rect x="474" y="796" width="3" height="1" fill="#000"/>
<rect x="480" y="796" width="3" height="1" fill="#000"/>
<rect x="486" y="796" width="3" height="1" fill="#000"/>
<rect x="492" y="796" width="3" height="1" fill="#000"/>
<rect x="498" y="796" width="3" height="1" fill="#000"/>
<rect x="504" y="796" width="3" height="1" fill="#000"/>
<rect x="510" y="796" width="3" height="1" fill="#000"/>
<rect x="516" y="796" width="3" height="1" fill="#000"/>
<rect x="522" y="796" width="3" height="1" fill="#000"/>
<rect x="528" y="796" width="3" height="1" fill="#000"/>
<rect x="534" y="796" width="3" height="1" fill="#000"/>
<rect x="540" y="796" width="3" height="1" fill="#000"/>
<rect x="546" y="796" width="3" height="1" fill="#000"/>
<rect x="552" y="796" width="3" height="1" fill="#000"/>
<rect x="558" y="796" width="3" height="1" fill="#000"/>
<rect x="564" y="796" width="3" height="1" fill="#000"/>
<rect x="570" y="796" width="3" height="1" fill="#000"/>
<rect x="576" y="796" width="3" height="1" fill="#000"/>
<rect x="582" y="796" width="3" height="1" fill="#000"/>
<rect x="588" y="796" width="3" height="1" fill="#000"/>
<rect x="594" y="796" width="3" height="1" fill="#000"/>
<rect x="600" y="796" width="3" height="1" fill="#000"/>
<rect x="606" y="796" width="3" height="1" fill="#000"/>
<rect x="612" y="796" width="3" height="1" fill="#000"/>
<rect x="618" y="796" width="3" height="1" fill="#000"/>
<rect x="624" y="796" width="3" height="1" fill="#000"/>
<rect x="630" y="796" width="3" height="1" fill="#000"/>
<rect x="636" y="796" width="3" height="1" fill="#000"/>
<rect x="642" y="796" width="3" height="1" fill="#000"/>
<rect x="648" y="796" width="3" height="1" fill="#000"/>
<rect x="654" y="796" width="3" height="1" fill="#000"/>
<rect x="660" y="796" width="3" height="1" fill="#000"/>
<rect x="666" y="796" width="3" height="1" fill="#000"/>
<rect x="672" y="796" width="3" height="1" fill="#000"/>
<rect x="678" y="796" width="3" height="1" fill="#000"/>
<rect x="684" y="796" width="3" height="1" fill="#000"/>
<rect x="690" y="796" width="3" height="1" fill="#000"/>
<rect x="696" y="796" width="3" height="1" fill="#000"/>
<rect x="702" y="796" width="3" height="1" fill="#000"/>
<rect x="708" y="796" width="3" height="1" fill="#000"/>
<rect x="714" y="796" width="3" height="1" fill="#000"/>
<rect x="720" y="796" width="3" height="1" fill="#000"/>
<rect x="726" y="796" width="3" height="1" fill="#000"/>
<rect x="732" y="796" width="3" height="1" fill="#000"/>
<rect x="738" y="796" width="3" height="1" fill="#000"/>
<rect x="744" y="796" width="3" height="1" fill="#000"/>
<rect x="750" y="796" width="3" height="1" fill="#000"/>
<rect x="756" y="796" width="3" height="1" fill="#000"/>
<rect x="762" y="796" width="3" height="1" fill="#000"/>
<rect x="768" y="796" width="3" height="1" fill="#000"/>
<rect x="774" y="796" width="3" height="1" fill="#000"/>
<rect x="780" y="796" width="3" height="1" fill="#000"/>
<rect x="786" y="796" width="3" height="1" fill="#000"/>
<rect x="792" y="796" width="3" height="1" fill="#000"/>
<rect x="798" y="796" width="3" height="1" fill="#000"/>
<rect x="804" y="796" width="3" height="1" fill="#000"/>
<rect x="810" y="796" width="3" height="1" fill="#000"/>
<rect x="816" y="796" width="3" height="1" fill="#000"/>
<rect x="822" y="796" width="3" height="1" fill="#000"/>
<rect x="828" y="796" width="3" height="1" fill="#000"/>
<rect x="834" y="796" width="3" height="1" fill="#000"/>
<rect x="840" y="796" width="3" height="1" fill="#000"/>
<rect x="846" y="796" width="3" height="1" fill="#000"/>
<rect x="852" y="796" width="3" height="1" fill="#000"/>
<rect x="858" y="796" width="3" height="1" fill="#000"/>
<rect x="864" y="796" width="3" height="1" fill="#000"/>
<rect x="870" y="796" width="3" height="1" fill="#000"/>
<rect x="876" y="796" width="3" height="1" fill="#000"/>
<rect x="882" y="796" width="3" height="1" fill="#000"/>
<rect x="888" y="796" width="3" height="1" fill="#000"/>
<rect x="894" y="796" width="3" height="1" fill="#000"/>
<rect x="900" y="796" width="3" height="1" fill="#000"/>
<rect x="906" y="796" width="3" height="1" fill="#000"/>
<rect x="912" y="796" width="3" height="1" fill="#000"/>
<rect x="918" y="796" width="3" height="1" fill="#000"/>
<rect x="924" y="796" width="3" height="1" fill="#000"/>
<rect x="930" y="796" width="3" height="1" fill="#000"/>
<rect x="936" y="796" width="3" height="1" fill="#000"/>
<rect x="942" y="796" width="3" height="1" fill="#000"/>
<rect x="948" y="796" width="3" height="1" fill="#000"/>
<rect x="954" y="796" width="3" height="1" fill="#000"/>
<rect x="960" y="796" width="3" height="1" fill="#000"/>
<rect x="966" y="796" width="3" height="1" fill="#000"/>
<rect x="972" y="796" width="3" height="1" fill="#000"/>
<rect x="978" y="796" width="3" height="1" fill="#000"/>
<rect x="984" y="796" width="3" height="1" fill="#000"/>
<rect x="990" y="796" width="3" height="1" fill="#000"/>
<rect x="996" y="796" width="3" height="1" fill="#000"/>
<rect x="1002" y="796" width="3" height="1" fill="#000"/>
<rect x="1008" y="796" width="3" height="1" fill="#000"/>
<rect x="1014" y="796" width="3" height="1" fill="#000"/>
<rect x="1020" y="796" width="3" height="1" fill="#000"/>
<rect x="1026" y="796" width="3" height="1" fill="#000"/>
<rect x="1032" y="796" width="3" height="1" fill="#000"/>
<rect x="1038" y="796" width="3" height="1" fill="#000"/>
<rect x="1044" y="796" width="3" height="1" fill="#000"/>
<rect x="1050" y="796" width="3" height="1" fill="#000"/>
<rect x="1056" y="796" width="3" height="1" fill="#000"/>
<rect x="1062" y="796" width="3" height="1" fill="#000"/>
<rect x="1068" y="796" width="3" height="1" fill="#000"/>
<rect x="1074" y="796" width="3" height="1" fill="#000"/>
<rect x="1080" y="796" width="3" height="1" fill="#000"/>
<rect x="1086" y="796" width="3" height="1" fill="#000"/>
<rect x="1092" y="796" width="3" height="1" fill="#000"/>
<rect x="1098" y="796" width="3" height="1" fill="#000"/>
<rect x="1104" y="796" width="3" height="1" fill="#000"/>
<rect x="1110" y="796" width="3" height="1" fill="#000"/>
<rect x="1116" y="796" width="3" height="1" fill="#000"/>
<rect x="1122" y="796" width="3" height="1" fill="#000"/>
<rect x="1128" y="796" width="3" height="1" fill="#000"/>
<rect x="1134" y="796" width="3" height="1" fill="#000"/>
<rect x="1140" y="796" width="3" height="1" fill="#000"/>
<rect x="1146" y="796" width="3" height="1" fill="#000"/>
<rect x="1152" y="796" width="3" height="1" fill="#000"/>
<rect x="1158" y="796" width="3" height="1" fill="#000"/>
<rect x="1164" y="796" width="3" height="1" fill="#000"/>
<rect x="1170" y="796" width="3" height="1" fill="#000"/>
<rect x="1176" y="796" width="3" height="1" fill="#000"/>
<rect x="1182" y="796" width="3" height="1" fill="#000"/>
<rect x="1188" y="796" width="3" height="1" fill="#000"/>
<rect x="1194" y="796" width="3" height="1" fill="#000"/>
<rect x="1200" y="796" width="3" height="1" fill="#000"/>
<rect x="1206" y="796" width="3" height="1" fill="#000"/>
<rect x="1212" y="796" width="3" height="1" fill="#000"/>
<rect x="1218" y="796" width="3" height="1" fill="#000"/>
<rect x="1224" y="796" width="3" height="1" fill="#000"/>
<rect x="1230" y="796" width="3" height="1" fill="#000"/>
<rect x="1236" y="796" width="3" height="1" fill="#000"/>
<rect x="1242" y="796" width="3" height="1" fill="#000"/>
<rect x="1248" y="796" width="3" height="1" fill="#000"/>
<rect x="1254" y="796" width="3" height="1" fill="#000"/>
<rect x="1260" y="796" width="3" height="1" fill="#000"/>
<rect x="1266" y="796" width="3" height="1" fill="#000"/>
<rect x="1272" y="796" width="3" height="1" fill="#000"/>
<rect x="1278" y="796" width="3" height="1" fill="#000"/>
<rect x="1284" y="796" width="3" height="1" fill="#000"/>
<rect x="1290" y="796" width="3" height="1" fill="#000"/>
<rect x="1296" y="796" width="3" height="1" fill="#000"/>
<rect x="1302" y="796" width="3" height="1" fill="#000"/>
<rect x="1308" y="796" width="3" height="1" fill="#000"/>
<rect x="1314" y="796" width="3" height="1" fill="#000"/>
<rect x="1320" y="796" width="3" height="1" fill="#000"/>
<rect x="1326" y="796" width="3" height="1" fill="#000"/>
<rect x="1332" y="796" width="3" height="1" fill="#000"/>
<rect x="1338" y="796" width="3" height="1" fill="#000"/>
<rect x="1344" y="796" width="3" height="1" fill="#000"/>
<rect x="1350" y="796" width="3" height="1" fill="#000"/>
<rect x="1356" y="796" width="3" height="1" fill="#000"/>
<rect x="1362" y="796" width="3" height="1" fill="#000"/>
<rect x="1368" y="796" width="3" height="1" fill="#000"/>
<rect x="1374" y="796" width="3" height="1" fill="#000"/>
<rect x="1380" y="796" width="3" height="1" fill="#000"/>
<rect x="1386" y="796" width="3" height="1" fill="#000"/>
<rect x="1392" y="796" width="3" height="1" fill="#000"/>
<rect x="1398" y="796" width="3" height="1" fill="#000"/>
<rect x="1404" y="796" width="3" height="1" fill="#000"/>
<rect x="1410" y="796" width="3" height="1" fill="#000"/>
<rect x="1416" y="796" width="3" height="1" fill="#000"/>
<rect x="1422" y="796" width="3" height="1" fill="#000"/>
<rect x="1428" y="796" width="3" height="1" fill="#000"/>
<rect x="1434" y="796" width="3" height="1" fill="#000"/>
<rect x="1440" y="796" width="3" height="1" fill="#000"/>
<rect x="1446" y="796" width="3" height="1" fill="#000"/>
<rect x="1452" y="796" width="3" height="1" fill="#000"/>
<rect x="1458" y="796" width="3" height="1" fill="#000"/>
<rect x="1464" y="796" width="3" height="1" fill="#000"/>
<rect x="1470" y="796" width="3" height="1" fill="#000"/>
<rect x="1476" y="796" width="3" height="1" fill="#000"/>
<rect x="1482" y="796" width="3" height="1" fill="#000"/>
<rect x="1488" y="796" width="3" height="1" fill="#000"/>
<rect x="1494" y="796" width="3" height="1" fill="#000"/>
<rect x="1500" y="796" width="3" height="1" fill="#000"/>
<rect x="1506" y="796" width="3" height="1" fill="#000"/>
<rect x="1512" y="796" width="3" height="1" fill="#000"/>
<rect x="1518" y="796" width="3" height="1" fill="#000"/>
<rect x="1524" y="796" width="3" height="1" fill="#000"/>
<rect x="1530" y="796" width="3" height="1" fill="#000"/>
<rect x="1536" y="796" width="3" height="1" fill="#000"/>
<rect x="1542" y="796" width="3" height="1" fill="#000"/>
<rect x="1548" y="796" width="3" height="1" fill="#000"/>
<rect x="1554" y="796" width="3" height="1" fill="#000"/>
<rect x="1560" y="796" width="3" height="1" fill="#000"/>
<rect x="1566" y="796" width="3" height="1" fill="#000"/>
<rect x="1572" y="796" width="3" height="1" fill="#000"/>
<rect x="1578" y="796" width="3" height="1" fill="#000"/>
<rect x="1584" y="796" width="3" height="1" fill="#000"/>
<rect x="1590" y="796" width="3" height="1" fill="#000"/>
<rect x="1596" y="796" width="3" height="1" fill="#000"/>
<rect x="1602" y="796" width="3" height="1" fill="#000"/>
<rect x="1608" y="796" width="3" height="1" fill="#000"/>
<rect x="1614" y="796" width="2" height="1" fill="#000"/>
<rect x="5" y="326" width="1611" height="1" fill="#000"/>
<rect x="5" y="365" width="1" height="57" fill="#000"/>
<rect x="5" y="395" width="6" height="5" fill="#000"/>
<rect x="21" y="390" width="1" height="50" fill="#000"/>
<rect x="16" y="394" width="11" height="31" fill="#000"/>
<rect x="17" y="395" width="9" height="29" fill="#00ff00"/>
<rect x="37" y="412" width="1" height="16" fill="#000"/>
<rect x="32" y="419" width="11" height="5" fill="#000"/>
<rect x="33" y="420" width="9" height="3" fill="#ff0000"/>
<rect x="53" y="381" width="1" height="40" fill="#000"/>
<rect x="48" y="389" width="11" height="31" fill="#000"/>
<rect x="49" y="390" width="9" height="29" fill="#ff0000"/>
<rect x="69" y="374" width="1" height="63" fill="#000"/>
<rect x="64" y="389" width="11" height="45" fill="#000"/>
<rect x="65" y="390" width="9" height="43" fill="#00ff00"/>
<rect x="85" y="381" width="1" height="86" fill="#000"/>
<rect x="80" y="433" width="11" height="24" fill="#000"/>
<rect x="81" y="434" width="9" height="22" fill="#00ff00"/>
<rect x="101" y="414" width="1" height="65" fill="#000"/>
<rect x="96" y="437" width="11" height="19" fill="#000"/>
<rect x="97" y="438" width="9" height="17" fill="#ff0000"/>
<rect x="117" y="435" width="1" height="46" fill="#000"/>
<rect x="112" y="437" width="11" height="16" fill="#000"/>
<rect x="113" y="438" width="9" height="14" fill="#00ff00"/>
<rect x="133" y="444" width="1" height="20" fill="#000"/>
<rect x="128" y="452" width="11" height="11" fill="#000"/>
<rect x="129" y="453" width="9" height="9" fill="#00ff00"/>
<rect x="149" y="431" width="1" height="38" fill="#000"/>
<rect x="144" y="447" width="11" height="18" fill="#000"/>
<rect x="145" y="448" width="9" height="16" fill="#ff0000"/>
<rect x="165" y="417" width="1" height="86" fill="#000"/>
<rect x="160" y="447" width="11" height="49" fill="#000"/>
<rect x="161" y="448" width="9" height="47" fill="#00ff00"/>
<rect x="181" y="459" width="1" height="64" fill="#000"/>
<rect x="176" y="495" width="11" height="26" fill="#000"/>
<rect x="177" y="496" width="9" height="24" fill="#00ff00"/>
<rect x="197" y="431" width="1" height="131" fill="#000"/>
<rect x="192" y="460" width="11" height="62" fill="#000"/>
<rect x="193" y="461" width="9" height="60" fill="#ff0000"/>
<rect x="213" y="444" width="1" height="46" fill="#000"/>
<rect x="208" y="445" width="11" height="17" fill="#000"/>
<rect x="209" y="446" width="9" height="15" fill="#ff0000"/>
<rect x="229" y="416" width="1" height="43" fill="#000"/>
<rect x="224" y="428" width="11" height="19" fill="#000"/>
<rect x="225" y="429" width="9" height="17" fill="#ff0000"/>
<rect x="245" y="426" width="1" height="48" fill="#000"/>
<rect x="240" y="428" width="11" height="40" fill="#000"/>
<rect x="241" y="429" width="9" height="38" fill="#00ff00"/>
<rect x="261" y="434" width="1" height="94" fill="#000"/>
<rect x="256" y="467" width="11" height="47" fill="#000"/>
<rect x="257" y="468" width="9" height="45" fill="#00ff00"/>
<rect x="277" y="452" width="1" height="68" fill="#000"/>
<rect x="272" y="481" width="11" height="33" fill="#000"/>
<rect x="273" y="482" width="9" height="31" fill="#ff0000"/>
<rect x="293" y="340" width="1" height="158" fill="#000"/>
<rect x="288" y="396" width="11" height="86" fill="#000"/>
<rect x="289" y="397" width="9" height="84" fill="#ff0000"/>
<rect x="309" y="391" width="1" height="68" fill="#000"/>
<rect x="304" y="396" width="11" height="54" fill="#000"/>
<rect x="305" y="397" width="9" height="52" fill="#00ff00"/>
<rect x="325" y="421" width="1" height="21" fill="#000"/>
<rect x="320" y="421" width="11" height="20" fill="#000"/>
<rect x="321" y="422" width="9" height="18" fill="#00ff00"/>
<rect x="341" y="427" width="1" height="46" fill="#000"/>
<rect x="336" y="440" width="11" height="2" fill="#000"/>
<rect x="357" y="423" width="1" height="47" fill="#000"/>
<rect x="352" y="430" width="11" height="10" fill="#000"/>
<rect x="353" y="431" width="9" height="8" fill="#ff0000"/>
<rect x="373" y="317" width="1" height="130" fill="#000"/>
<rect x="368" y="347" width="11" height="84" fill="#000"/>
<rect x="369" y="348" width="9" height="82" fill="#ff0000"/>
<rect x="389" y="312" width="1" height="79" fill="#000"/>
<rect x="384" y="346" width="11" height="25" fill="#000"/>
<rect x="385" y="347" width="9" height="23" fill="#00ff00"/>
<rect x="405" y="346" width="1" height="33" fill="#000"/>
<rect x="400" y="354" width="11" height="18" fill="#000"/>
<rect x="401" y="355" width="9" height="16" fill="#ff0000"/>
<rect x="421" y="352" width="1" height="27" fill="#000"/>
<rect x="416" y="354" width="11" height="1" fill="#000"/>
<rect x="437" y="307" width="1" height="48" fill="#000"/>
<rect x="432" y="336" width="11" height="19" fill="#000"/>
<rect x="433" y="337" width="9" height="17" fill="#ff0000"/>
<rect x="453" y="332" width="1" height="46" fill="#000"/>
<rect x="448" y="337" width="11" height="28" fill="#000"/>
<rect x="449" y="338" width="9" height="26" fill="#00ff00"/>
<rect x="469" y="361" width="1" height="97" fill="#000"/>
<rect x="464" y="365" width="11" height="82" fill="#000"/>
<rect x="465" y="366" width="9" height="80" fill="#00ff00"/>
<rect x="485" y="353" width="1" height="115" fill="#000"/>
<rect x="480" y="378" width="11" height="68" fill="#000"/>
<rect x="481" y="379" width="9" height="66" fill="#ff0000"/>
<rect x="501" y="368" width="1" height="34" fill="#000"/>
<rect x="496" y="377" width="11" height="19" fill="#000"/>
<rect x="497" y="378" width="9" height="17" fill="#00ff00"/>
<rect x="517" y="369" width="1" height="34" fill="#000"/>
<rect x="512" y="377" width="11" height="19" fill="#000"/>
<rect x="513" y="378" width="9" height="17" fill="#ff0000"/>
<rect x="533" y="349" width="1" height="27" fill="#000"/>
<rect x="528" y="359" width="11" height="17" fill="#000"/>
<rect x="529" y="360" width="9" height="15" fill="#ff0000"/>
<rect x="549" y="326" width="1" height="51" fill="#000"/>
<rect x="544" y="357" width="11" height="3" fill="#000"/>
<rect x="545" y="358" width="9" height="1" fill="#ff0000"/>
<rect x="565" y="310" width="1" height="54" fill="#000"/>
<rect x="560" y="340" width="11" height="18" fill="#000"/>
<rect x="561" y="341" width="9" height="16" fill="#ff0000"/>
<rect x="581" y="335" width="1" height="61" fill="#000"/>
<rect x="576" y="339" width="11" height="52" fill="#000"/>
<rect x="577" y="340" width="9" height="50" fill="#00ff00"/>
<rect x="597" y="186" width="1" height="207" fill="#000"/>
<rect x="592" y="210" width="11" height="181" fill="#000"/>
<rect x="593" y="211" width="9" height="179" fill="#ff0000"/>
<rect x="613" y="208" width="1" height="26" fill="#000"/>
<rect x="608" y="211" width="11" height="6" fill="#000"/>
<rect x="609" y="212" width="9" height="4" fill="#00ff00"/>
<rect x="629" y="185" width="1" height="57" fill="#000"/>
<rect x="624" y="213" width="11" height="3" fill="#000"/>
<rect x="625" y="214" width="9" height="1" fill="#ff0000"/>
<rect x="645" y="188" width="1" height="39" fill="#000"/>
<rect x="640" y="190" width="11" height="24" fill="#000"/>
<rect x="641" y="191" width="9" height="22" fill="#ff0000"/>
<rect x="661" y="179" width="1" height="111" fill="#000"/>
<rect x="656" y="189" width="11" height="81" fill="#000"/>
<rect x="657" y="190" width="9" height="79" fill="#00ff00"/>
<rect x="677" y="211" width="1" height="80" fill="#000"/>
<rect x="672" y="261" width="11" height="9" fill="#000"/>
<rect x="673" y="262" width="9" height="7" fill="#ff0000"/>
<rect x="693" y="209" width="1" height="73" fill="#000"/>
<rect x="688" y="210" width="11" height="52" fill="#000"/>
<rect x="689" y="211" width="9" height="50" fill="#ff0000"/>
<rect x="709" y="189" width="1" height="28" fill="#000"/>
<rect x="704" y="203" width="11" height="8" fill="#000"/>
<rect x="705" y="204" width="9" height="6" fill="#ff0000"/>
<rect x="725" y="172" width="1" height="44" fill="#000"/>
<rect x="720" y="181" width="11" height="22" fill="#000"/>
<rect x="721" y="182" width="9" height="20" fill="#ff0000"/>
<rect x="741" y="111" width="1" height="78" fill="#000"/>
<rect x="736" y="150" width="11" height="32" fill="#000"/>
<rect x="737" y="151" width="9" height="30" fill="#ff0000"/>
<rect x="757" y="150" width="1" height="98" fill="#000"/>
<rect x="752" y="150" width="11" height="77" fill="#000"/>
<rect x="753" y="151" width="9" height="75" fill="#00ff00"/>
<rect x="773" y="185" width="1" height="157" fill="#000"/>
<rect x="768" y="191" width="11" height="36" fill="#000"/>
<rect x="769" y="192" width="9" height="34" fill="#ff0000"/>
<rect x="789" y="188" width="1" height="40" fill="#000"/>
<rect x="784" y="191" width="11" height="10" fill="#000"/>
<rect x="785" y="192" width="9" height="8" fill="#00ff00"/>
<rect x="805" y="204" width="1" height="11" fill="#000"/>
<rect x="800" y="204" width="11" height="6" fill="#000"/>
<rect x="801" y="205" width="9" height="4" fill="#00ff00"/>
<rect x="821" y="171" width="1" height="45" fill="#000"/>
<rect x="816" y="190" width="11" height="20" fill="#000"/>
<rect x="817" y="191" width="9" height="18" fill="#ff0000"/>
<rect x="837" y="160" width="1" height="42" fill="#000"/>
<rect x="832" y="172" width="11" height="20" fill="#000"/>
<rect x="833" y="173" width="9" height="18" fill="#ff0000"/>
<rect x="853" y="90" width="1" height="86" fill="#000"/>
<rect x="848" y="136" width="11" height="37" fill="#000"/>
<rect x="849" y="137" width="9" height="35" fill="#ff0000"/>
<rect x="869" y="50" width="1" height="94" fill="#000"/>
<rect x="864" y="71" width="11" height="65" fill="#000"/>
<rect x="865" y="72" width="9" height="63" fill="#ff0000"/>
<rect x="885" y="61" width="1" height="56" fill="#000"/>
<rect x="880" y="72" width="11" height="26" fill="#000"/>
<rect x="881" y="73" width="9" height="24" fill="#00ff00"/>
<rect x="901" y="92" width="1" height="25" fill="#000"/>
<rect x="896" y="96" width="11" height="3" fill="#000"/>
<rect x="897" y="97" width="9" height="1" fill="#ff0000"/>
<rect x="917" y="68" width="1" height="44" fill="#000"/>
<rect x="912" y="94" width="11" height="2" fill="#000"/>
<rect x="933" y="89" width="1" height="93" fill="#000"/>
<rect x="928" y="96" width="11" height="71" fill="#000"/>
<rect x="929" y="97" width="9" height="69" fill="#00ff00"/>
<rect x="949" y="133" width="1" height="54" fill="#000"/>
<rect x="944" y="146" width="11" height="21" fill="#000"/>
<rect x="945" y="147" width="9" height="19" fill="#ff0000"/>
<rect x="965" y="116" width="1" height="78" fill="#000"/>
<rect x="960" y="143" width="11" height="4" fill="#000"/>
<rect x="961" y="144" width="9" height="2" fill="#ff0000"/>
<rect x="981" y="136" width="1" height="75" fill="#000"/>
<rect x="976" y="143" width="11" height="67" fill="#000"/>
<rect x="977" y="144" width="9" height="65" fill="#00ff00"/>
<rect x="997" y="203" width="1" height="41" fill="#000"/>
<rect x="992" y="208" width="11" height="33" fill="#000"/>
<rect x="993" y="209" width="9" height="31" fill="#00ff00"/>
<rect x="1013" y="182" width="1" height="70" fill="#000"/>
<rect x="1008" y="185" width="11" height="54" fill="#000"/>
<rect x="1009" y="186" width="9" height="52" fill="#ff0000"/>
<rect x="1029" y="164" width="1" height="59" fill="#000"/>
<rect x="1024" y="180" width="11" height="6" fill="#000"/>
<rect x="1025" y="181" width="9" height="4" fill="#ff0000"/>
<rect x="1045" y="158" width="1" height="53" fill="#000"/>
<rect x="1040" y="180" width="11" height="1" fill="#000"/>
<rect x="1061" y="173" width="1" height="123" fill="#000"/>
<rect x="1056" y="181" width="11" height="75" fill="#000"/>
<rect x="1057" y="182" width="9" height="73" fill="#00ff00"/>
<rect x="1077" y="225" width="1" height="40" fill="#000"/>
<rect x="1072" y="236" width="11" height="20" fill="#000"/>
<rect x="1073" y="237" width="9" height="18" fill="#ff0000"/>
<rect x="1093" y="230" width="1" height="19" fill="#000"/>
<rect x="1088" y="236" width="11" height="12" fill="#000"/>
<rect x="1089" y="237" width="9" height="10" fill="#00ff00"/>
<rect x="1109" y="209" width="1" height="40" fill="#000"/>
<rect x="1104" y="231" width="11" height="17" fill="#000"/>
<rect x="1105" y="232" width="9" height="15" fill="#ff0000"/>
<rect x="1125" y="199" width="1" height="61" fill="#000"/>
<rect x="1120" y="210" width="11" height="22" fill="#000"/>
<rect x="1121" y="211" width="9" height="20" fill="#ff0000"/>
<rect x="1141" y="156" width="1" height="183" fill="#000"/>
<rect x="1136" y="211" width="11" height="103" fill="#000"/>
<rect x="1137" y="212" width="9" height="101" fill="#00ff00"/>
<rect x="1157" y="239" width="1" height="92" fill="#000"/>
<rect x="1152" y="244" width="11" height="70" fill="#000"/>
<rect x="1153" y="245" width="9" height="68" fill="#ff0000"/>
<rect x="1173" y="199" width="1" height="50" fill="#000"/>
<rect x="1168" y="208" width="11" height="38" fill="#000"/>
<rect x="1169" y="209" width="9" height="36" fill="#ff0000"/>
<rect x="1189" y="205" width="1" height="22" fill="#000"/>
<rect x="1184" y="206" width="11" height="17" fill="#000"/>
<rect x="1185" y="207" width="9" height="15" fill="#00ff00"/>
<rect x="1205" y="221" width="1" height="36" fill="#000"/>
<rect x="1200" y="221" width="11" height="20" fill="#000"/>
<rect x="1201" y="222" width="9" height="18" fill="#00ff00"/>
<rect x="1221" y="208" width="1" height="43" fill="#000"/>
<rect x="1216" y="225" width="11" height="16" fill="#000"/>
<rect x="1217" y="226" width="9" height="14" fill="#ff0000"/>
<rect x="1237" y="223" width="1" height="41" fill="#000"/>
<rect x="1232" y="224" width="11" height="22" fill="#000"/>
<rect x="1233" y="225" width="9" height="20" fill="#00ff00"/>
<rect x="1253" y="233" width="1" height="185" fill="#000"/>
<rect x="1248" y="245" width="11" height="101" fill="#000"/>
<rect x="1249" y="246" width="9" height="99" fill="#00ff00"/>
<rect x="1269" y="302" width="1" height="51" fill="#000"/>
<rect x="1264" y="341" width="11" height="4" fill="#000"/>
<rect x="1265" y="342" width="9" height="2" fill="#ff0000"/>
<rect x="1285" y="341" width="1" height="8" fill="#000"/>
<rect x="1280" y="344" width="11" height="3" fill="#000"/>
<rect x="1281" y="345" width="9" height="1" fill="#ff0000"/>
<rect x="1301" y="320" width="1" height="43" fill="#000"/>
<rect x="1296" y="321" width="11" height="24" fill="#000"/>
<rect x="1297" y="322" width="9" height="22" fill="#ff0000"/>
<rect x="1317" y="266" width="1" height="69" fill="#000"/>
<rect x="1312" y="273" width="11" height="49" fill="#000"/>
<rect x="1313" y="274" width="9" height="47" fill="#ff0000"/>
<rect x="1333" y="272" width="1" height="60" fill="#000"/>
<rect x="1328" y="273" width="11" height="2" fill="#000"/>
<rect x="1349" y="247" width="1" height="58" fill="#000"/>
<rect x="1344" y="273" width="11" height="28" fill="#000"/>
<rect x="1345" y="274" width="9" height="26" fill="#00ff00"/>
<rect x="1365" y="296" width="1" height="39" fill="#000"/>
<rect x="1360" y="300" width="11" height="22" fill="#000"/>
<rect x="1361" y="301" width="9" height="20" fill="#00ff00"/>
<rect x="1381" y="318" width="1" height="9" fill="#000"/>
<rect x="1376" y="321" width="11" height="6" fill="#000"/>
<rect x="1377" y="322" width="9" height="4" fill="#00ff00"/>
<rect x="4" y="228" width="1614" height="2" fill="#ff0000"/>
<rect x="4" y="226" width="6" height="6" fill="#ff0000"/>
<rect x="6" y="228" width="2" height="2" fill="#fff"/>
<rect x="1610" y="226" width="6" height="6" fill="#ff0000"/>
<rect x="1612" y="228" width="2" height="2" fill="#fff"/>
<rect x="4" y="271" width="1614" height="2" fill="#ff0000"/>
<rect x="4" y="269" width="6" height="6" fill="#ff0000"/>
<rect x="6" y="271" width="2" height="2" fill="#fff"/>
<rect x="1610" y="269" width="6" height="6" fill="#ff0000"/>
<rect x="1612" y="271" width="2" height="2" fill="#fff"/>
<rect x="4" y="314" width="1614" height="2" fill="#ffa500"/>
<rect x="4" y="312" width="6" height="6" fill="#ffa500"/>
<rect x="6" y="314" width="2" height="2" fill="#fff"/>
<rect x="1610" y="312" width="6" height="6" fill="#ffa500"/>
<rect x="1612" y="314" width="2" height="2" fill="#fff"/>
<rect x="4" y="364" width="1614" height="2" fill="#0000ff"/>
<rect x="4" y="362" width="6" height="6" fill="#0000ff"/>
<rect x="6" y="364" width="2" height="2" fill="#fff"/>
<rect x="1610" y="362" width="6" height="6" fill="#0000ff"/>
<rect x="1612" y="364" width="2" height="2" fill="#fff"/>
<rect x="4" y="398" width="1614" height="2" fill="#0000ff"/>
<rect x="4" y="396" width="6" height="6" fill="#0000ff"/>
<rect x="6" y="398" width="2" height="2" fill="#fff"/>
<rect x="1610" y="396" width="6" height="6" fill="#0000ff"/>
<rect x="1612" y="398" width="2" height="2" fill="#fff"/>
<g shape-rendering="geometricPrecision"><line x1="1154.6" y1="170.8" x2="1399" y2="264.4" stroke="#479a27" stroke-width="3.3"/><polygon points="1400.4,255.6 1394.0,272.6 1413.5,270.4" fill="#479a27"/></g>
<rect x="5" y="612" width="2" height="41" fill="#00ff00"/>
<rect x="20" y="610" width="3" height="43" fill="#00ff00"/>
<rect x="36" y="609" width="3" height="44" fill="#00ff00"/>
<rect x="52" y="606" width="3" height="47" fill="#00ff00"/>
<rect x="68" y="609" width="3" height="44" fill="#00ff00"/>
<rect x="84" y="613" width="3" height="40" fill="#00ff00"/>
<rect x="100" y="615" width="3" height="38" fill="#00ff00"/>
<rect x="116" y="618" width="3" height="35" fill="#00ff00"/>
<rect x="132" y="622" width="3" height="31" fill="#00ff00"/>
<rect x="148" y="624" width="3" height="29" fill="#00ff00"/>
<rect x="164" y="631" width="3" height="22" fill="#00ff00"/>
<rect x="180" y="638" width="3" height="15" fill="#00ff00"/>
<rect x="196" y="639" width="3" height="14" fill="#00ff00"/>
<rect x="212" y="638" width="3" height="15" fill="#00ff00"/>
<rect x="228" y="636" width="3" height="17" fill="#00ff00"/>
<rect x="244" y="638" width="3" height="15" fill="#00ff00"/>
<rect x="260" y="644" width="3" height="9" fill="#00ff00"/>
<rect x="276" y="646" width="3" height="7" fill="#00ff00"/>
<rect x="292" y="640" width="3" height="13" fill="#00ff00"/>
<rect x="308" y="640" width="3" height="13" fill="#00ff00"/>
<rect x="324" y="640" width="3" height="13" fill="#00ff00"/>
<rect x="340" y="640" width="3" height="13" fill="#00ff00"/>
<rect x="356" y="640" width="3" height="13" fill="#00ff00"/>
<rect x="372" y="630" width="3" height="23" fill="#00ff00"/>
<rect x="388" y="626" width="3" height="27" fill="#00ff00"/>
<rect x="404" y="622" width="3" height="31" fill="#00ff00"/>
<rect x="420" y="619" width="3" height="34" fill="#00ff00"/>
<rect x="436" y="616" width="3" height="37" fill="#00ff00"/>
<rect x="452" y="616" width="3" height="37" fill="#00ff00"/>
<rect x="468" y="624" width="3" height="29" fill="#00ff00"/>
<rect x="484" y="625" width="3" height="28" fill="#00ff00"/>
<rect x="500" y="626" width="3" height="27" fill="#00ff00"/>
<rect x="516" y="627" width="3" height="26" fill="#00ff00"/>
<rect x="532" y="626" width="3" height="27" fill="#00ff00"/>
<rect x="548" y="625" width="3" height="28" fill="#00ff00"/>
<rect x="564" y="624" width="3" height="29" fill="#00ff00"/>
<rect x="580" y="627" width="3" height="26" fill="#00ff00"/>
<rect x="596" y="613" width="3" height="40" fill="#00ff00"/>
<rect x="612" y="604" width="3" height="49" fill="#00ff00"/>
<rect x="628" y="597" width="3" height="56" fill="#00ff00"/>
<rect x="644" y="590" width="3" height="63" fill="#00ff00"/>
<rect x="660" y="592" width="3" height="61" fill="#00ff00"/>
<rect x="676" y="594" width="3" height="59" fill="#00ff00"/>
<rect x="692" y="592" width="3" height="61" fill="#00ff00"/>
<rect x="708" y="590" width="3" height="63" fill="#00ff00"/>
<rect x="724" y="587" width="3" height="66" fill="#00ff00"/>
<rect x="740" y="583" width="3" height="70" fill="#00ff00"/>
<rect x="756" y="587" width="3" height="66" fill="#00ff00"/>
<rect x="772" y="588" width="3" height="65" fill="#00ff00"/>
<rect x="788" y="591" width="3" height="62" fill="#00ff00"/>
<rect x="804" y="594" width="3" height="59" fill="#00ff00"/>
<rect x="820" y="596" width="3" height="57" fill="#00ff00"/>
<rect x="836" y="596" width="3" height="57" fill="#00ff00"/>
<rect x="852" y="594" width="3" height="59" fill="#00ff00"/>
<rect x="868" y="586" width="3" height="67" fill="#00ff00"/>
<rect x="884" y="584" width="3" height="69" fill="#00ff00"/>
<rect x="900" y="583" width="3" height="70" fill="#00ff00"/>
<rect x="916" y="583" width="3" height="70" fill="#00ff00"/>
<rect x="932" y="590" width="3" height="63" fill="#00ff00"/>
<rect x="948" y="594" width="3" height="59" fill="#00ff00"/>
<rect x="964" y="598" width="3" height="55" fill="#00ff00"/>
<rect x="980" y="607" width="3" height="46" fill="#00ff00"/>
<rect x="996" y="618" width="3" height="35" fill="#00ff00"/>
<rect x="1012" y="622" width="3" height="31" fill="#00ff00"/>
<rect x="1028" y="625" width="3" height="28" fill="#00ff00"/>
<rect x="1044" y="628" width="3" height="25" fill="#00ff00"/>
<rect x="1060" y="637" width="3" height="16" fill="#00ff00"/>
<rect x="1076" y="643" width="3" height="10" fill="#00ff00"/>
<rect x="1092" y="648" width="3" height="5" fill="#00ff00"/>
<rect x="1108" y="651" width="3" height="2" fill="#00ff00"/>
<rect x="1124" y="651" width="3" height="2" fill="#00ff00"/>
<rect x="1140" y="653" width="3" height="9" fill="#00ff00"/>
<rect x="1156" y="653" width="3" height="10" fill="#00ff00"/>
<rect x="1172" y="653" width="3" height="8" fill="#00ff00"/>
<rect x="1188" y="653" width="3" height="7" fill="#00ff00"/>
<rect x="1204" y="653" width="3" height="8" fill="#00ff00"/>
<rect x="1220" y="653" width="3" height="7" fill="#00ff00"/>
<rect x="1236" y="653" width="3" height="9" fill="#00ff00"/>
<rect x="1252" y="653" width="3" height="19" fill="#00ff00"/>
<rect x="1268" y="653" width="3" height="26" fill="#00ff00"/>
<rect x="1284" y="653" width="3" height="31" fill="#00ff00"/>
<rect x="1300" y="653" width="3" height="33" fill="#00ff00"/>
<rect x="1316" y="653" width="3" height="30" fill="#00ff00"/>
<rect x="1332" y="653" width="3" height="27" fill="#00ff00"/>
<rect x="1348" y="653" width="3" height="27" fill="#00ff00"/>
<rect x="1364" y="653" width="3" height="29" fill="#00ff00"/>
<rect x="1380" y="653" width="3" height="30" fill="#00ff00"/>
<polyline points="5.5,635.5 21.5,629.5 37.5,624.5 53.5,621.5 69.5,617 85.5,615 101.5,613 117.5,612.5 133.5,613 149.5,614 165.5,616 181.5,620.5 197.5,623.5 213.5,626.5 229.5,629.5 245.5,632 261.5,635.5 277.5,637.5 293.5,639.5 309.5,639.8 325.5,639.8 341.5,639.8 357.5,639.8 373.5,639.7 389.5,638.5 405.5,636.7 421.5,633 437.5,630.5 453.5,627 469.5,626 485.5,624.5 501.5,623.5 517.5,622.2 533.5,622.2 549.5,622.7 565.5,624 581.5,624 597.5,624 613.5,622.7 629.5,619.5 645.5,615.2 661.5,611 677.5,607.2 693.5,604.2 709.5,600.2 725.5,596.2 741.5,592.2 757.5,590.2 773.5,589.2 789.5,589.7 805.5,590 821.5,590 837.5,590.5 853.5,590.7 869.5,590.7 885.5,590.7 901.5,590 917.5,590 933.5,589.2 949.5,589.5 965.5,590.2 981.5,591 997.5,594 1013.5,597.7 1029.5,601.7 1045.5,606.7 1061.5,612.7 1077.5,618.7 1093.5,625 1109.5,630.5 1125.5,635.5 1141.5,640.2 1157.5,644.5 1173.5,648.2 1189.5,651.7 1205.5,654.5 1221.5,657 1237.5,658 1253.5,660 1269.5,663.5 1285.5,666.5 1301.5,668.2 1317.5,671.5 1333.5,673.5 1349.5,675 1365.5,678.5 1381.5,680" fill="none" stroke="#ff0000" stroke-width="2"/>
<polyline points="5.5,735 21.5,739.5 37.5,739.5 53.5,736.5 69.5,745.5 85.5,749 101.5,748 117.5,750.5 133.5,752 149.5,750 165.5,758.5 181.5,762 197.5,752 213.5,749.5 229.5,747 245.5,754 261.5,761 277.5,755.5 293.5,744.5 309.5,751.5 325.5,751.5 341.5,751 357.5,749.5 373.5,740 389.5,743 405.5,741.2 421.5,741 437.5,740 453.5,745 469.5,757.5 485.5,750 501.5,750.7 517.5,749 533.5,746 549.5,745.5 565.5,744.5 581.5,753 597.5,735 613.5,735 629.5,735 645.5,734 661.5,744.5 677.5,744.5 693.5,739.5 709.5,738.7 725.5,737 741.5,735 757.5,745.5 773.5,743 789.5,744.5 805.5,744.5 821.5,743.5 837.5,741.5 853.5,737.5 869.5,732 885.5,735.7 901.5,735.7 917.5,735.7 933.5,747.5 949.5,746 965.5,746 981.5,756.7 997.5,760 1013.5,751.5 1029.5,751.5 1045.5,751.5 1061.5,761.7 1077.5,760 1093.5,760 1109.5,758.7 1125.5,755.5 1141.5,768 1157.5,758 1173.5,754 1189.5,755.5 1205.5,756.7 1221.5,755.7 1237.5,757.5 1253.5,768.7 1269.5,768.7 1285.5,768.7 1301.5,765.5 1317.5,757 1333.5,757 1349.5,761.5 1365.5,764 1381.5,764" fill="none" stroke="#1e90ff" stroke-width="2"/>
<rect x="1617" y="43" width="2" height="1" fill="#000"/>
<text x="1622.5" y="47" font-size="9.7" fill="#000" stroke="#000" textLength="32.5" lengthAdjust="spacingAndGlyphs" xml:space="preserve">1.22975</text>
<rect x="1617" y="76" width="2" height="1" fill="#000"/>
<text x="1622.5" y="80" font-size="9.7" fill="#000" stroke="#000" textLength="32.5" lengthAdjust="spacingAndGlyphs" xml:space="preserve">1.22715</text>
<rect x="1617" y="109" width="2" height="1" fill="#000"/>
<text x="1622.5" y="113" font-size="9.7" fill="#000" stroke="#000" textLength="32.5" lengthAdjust="spacingAndGlyphs" xml:space="preserve">1.22455</text>
<rect x="1617" y="142" width="2" height="1" fill="#000"/>
<text x="1622.5" y="146" font-size="9.7" fill="#000" stroke="#000" textLength="32.5" lengthAdjust="spacingAndGlyphs" xml:space="preserve">1.22195</text>
<rect x="1617" y="175" width="2" height="1" fill="#000"/>
<text x="1622.5" y="179" font-size="9.7" fill="#000" stroke="#000" textLength="32.5" lengthAdjust="spacingAndGlyphs" xml:space="preserve">1.21935</text>
<rect x="1617" y="208" width="2" height="1" fill="#000"/>
<text x="1622.5" y="212" font-size="9.7" fill="#000" stroke="#000" textLength="32.5" lengthAdjust="spacingAndGlyphs" xml:space="preserve">1.21675</text>
<rect x="1617" y="241" width="2" height="1" fill="#000"/>
<text x="1622.5" y="245" font-size="9.7" fill="#000" stroke="#000" textLength="32.5" lengthAdjust="spacingAndGlyphs" xml:space="preserve">1.21410</text>
<rect x="1617" y="274" width="2" height="1" fill="#000"/>
<text x="1622.5" y="278" font-size="9.7" fill="#000" stroke="#000" textLength="32.5" lengthAdjust="spacingAndGlyphs" xml:space="preserve">1.21150</text>
<rect x="1617" y="307" width="2" height="1" fill="#000"/>
<text x="1622.5" y="311" font-size="9.7" fill="#000" stroke="#000" textLength="32.5" lengthAdjust="spacingAndGlyphs" xml:space="preserve">1.20890</text>
<rect x="1617" y="340" width="2" height="1" fill="#000"/>
<text x="1622.5" y="344" font-size="9.7" fill="#000" stroke="#000" textLength="32.5" lengthAdjust="spacingAndGlyphs" xml:space="preserve">1.20630</text>
<rect x="1617" y="373" width="2" height="1" fill="#000"/>
<text x="1622.5" y="377" font-size="9.7" fill="#000" stroke="#000" textLength="32.5" lengthAdjust="spacingAndGlyphs" xml:space="preserve">1.20370</text>
<rect x="1617" y="406" width="2" height="1" fill="#000"/>
<text x="1622.5" y="410" font-size="9.7" fill="#000" stroke="#000" textLength="32.5" lengthAdjust="spacingAndGlyphs" xml:space="preserve">1.20110</text>
<rect x="1617" y="439" width="2" height="1" fill="#000"/>
<text x="1622.5" y="443" font-size="9.7" fill="#000" stroke="#000" textLength="32.5" lengthAdjust="spacingAndGlyphs" xml:space="preserve">1.19850</text>
<rect x="1617" y="472" width="2" height="1" fill="#000"/>
<text x="1622.5" y="476" font-size="9.7" fill="#000" stroke="#000" textLength="32.5" lengthAdjust="spacingAndGlyphs" xml:space="preserve">1.19590</text>
<rect x="1617" y="505" width="2" height="1" fill="#000"/>
<text x="1622.5" y="509" font-size="9.7" fill="#000" stroke="#000" textLength="32.5" lengthAdjust="spacingAndGlyphs" xml:space="preserve">1.19330</text>
<rect x="1617" y="538" width="2" height="1" fill="#000"/>
<text x="1622.5" y="542" font-size="9.7" fill="#000" stroke="#000" textLength="32.5" lengthAdjust="spacingAndGlyphs" xml:space="preserve">1.19070</text>
<rect x="1617" y="571" width="2" height="1" fill="#000"/>
<text x="1622.5" y="575" font-size="9.7" fill="#000" stroke="#000" textLength="32.5" lengthAdjust="spacingAndGlyphs" xml:space="preserve">1.18810</text>
<rect x="1618" y="223" width="41" height="11" fill="#ff0000"/>
<text x="1622.5" y="232" font-size="9.7" fill="#fff" stroke="#fff" textLength="32.5" lengthAdjust="spacingAndGlyphs" xml:space="preserve">1.21507</text>
<rect x="1618" y="266" width="41" height="11" fill="#ff0000"/>
<text x="1622.5" y="275" font-size="9.7" fill="#fff" stroke="#fff" textLength="32.5" lengthAdjust="spacingAndGlyphs" xml:space="preserve">1.21169</text>
<rect x="1618" y="309" width="41" height="11" fill="#ffa500"/>
<text x="1622.5" y="318" font-size="9.7" fill="#fff" stroke="#fff" textLength="32.5" lengthAdjust="spacingAndGlyphs" xml:space="preserve">1.20830</text>
<rect x="1618" y="359" width="41" height="11" fill="#0000ff"/>
<text x="1622.5" y="368" font-size="9.7" fill="#fff" stroke="#fff" textLength="32.5" lengthAdjust="spacingAndGlyphs" xml:space="preserve">1.20436</text>
<rect x="1618" y="393" width="41" height="11" fill="#0000ff"/>
<text x="1622.5" y="402" font-size="9.7" fill="#fff" stroke="#fff" textLength="32.5" lengthAdjust="spacingAndGlyphs" xml:space="preserve">1.20168</text>
<rect x="1618" y="321" width="41" height="11" fill="#000"/>
<text x="1622.5" y="330" font-size="9.7" fill="#fff" stroke="#fff" textLength="32.5" lengthAdjust="spacingAndGlyphs" xml:space="preserve">1.20744</text>
<rect x="1617" y="578" width="1" height="1" fill="#000"/>
<rect x="1617" y="653" width="2" height="1" fill="#000"/>
<rect x="1617" y="690" width="1" height="1" fill="#000"/>
<text x="1620" y="587" font-size="9.7" fill="#000" stroke="#000" textLength="37.8" lengthAdjust="spacingAndGlyphs" xml:space="preserve">0.005258</text>
<text x="1620.3" y="657" font-size="9.7" fill="#000" stroke="#000" textLength="17.4" lengthAdjust="spacingAndGlyphs" xml:space="preserve">0.00</text>
<text x="1619.8" y="688" font-size="9.7" fill="#000" stroke="#000" textLength="41.2" lengthAdjust="spacingAndGlyphs" xml:space="preserve">-0.002636</text>
<rect x="1617" y="695" width="1" height="1" fill="#000"/>
<rect x="1617" y="814" width="1" height="1" fill="#000"/>
<text x="1620.3" y="704" font-size="9.7" fill="#000" stroke="#000" textLength="14.2" lengthAdjust="spacingAndGlyphs" xml:space="preserve">100</text>
<text x="1619.3" y="722" font-size="9.7" fill="#000" stroke="#000" textLength="9.3" lengthAdjust="spacingAndGlyphs" xml:space="preserve">80</text>
<text x="1619.6" y="758" font-size="9.7" fill="#000" stroke="#000" textLength="9.0" lengthAdjust="spacingAndGlyphs" xml:space="preserve">50</text>
<text x="1620.3" y="800" font-size="9.7" fill="#000" stroke="#000" textLength="8.5" lengthAdjust="spacingAndGlyphs" xml:space="preserve">15</text>
<text x="1620.3" y="812" font-size="9.7" fill="#000" stroke="#000" textLength="4.6" lengthAdjust="spacingAndGlyphs" xml:space="preserve">0</text>
<polygon points="8,29 15,29 11.5,33" fill="#000" shape-rendering="geometricPrecision"/>
<text x="20.2" y="34" font-size="9.7" fill="#000" stroke="#000" textLength="204" lengthAdjust="spacingAndGlyphs" xml:space="preserve">GBPUSD-,H4  1.20786 1.20809 1.20744 1.20744</text>
<text x="9.2" y="589" font-size="9.7" fill="#000" stroke="#000" textLength="153.3" lengthAdjust="spacingAndGlyphs" xml:space="preserve">MACD(12,26,9) -0.002055 -0.001911</text>
<text x="9.2" y="706" font-size="9.7" fill="#000" stroke="#000" textLength="67.8" lengthAdjust="spacingAndGlyphs" xml:space="preserve">RSI(14) 41.7219</text>
<rect x="5" y="816" width="1" height="3" fill="#000"/>
<text x="4.4" y="828" font-size="9.7" fill="#000" stroke="#000" textLength="46.5" lengthAdjust="spacingAndGlyphs" xml:space="preserve">19 Jul 2022</text>
<rect x="69" y="816" width="1" height="3" fill="#000"/>
<text x="68.4" y="828" font-size="9.7" fill="#000" stroke="#000" textLength="49.6" lengthAdjust="spacingAndGlyphs" xml:space="preserve">20 Jul 04:00</text>
<rect x="133" y="816" width="1" height="3" fill="#000"/>
<text x="132.4" y="828" font-size="9.7" fill="#000" stroke="#000" textLength="49.6" lengthAdjust="spacingAndGlyphs" xml:space="preserve">20 Jul 20:00</text>
<rect x="197" y="816" width="1" height="3" fill="#000"/>
<text x="196.4" y="828" font-size="9.7" fill="#000" stroke="#000" textLength="49.6" lengthAdjust="spacingAndGlyphs" xml:space="preserve">21 Jul 12:00</text>
<rect x="261" y="816" width="1" height="3" fill="#000"/>
<text x="260.4" y="828" font-size="9.7" fill="#000" stroke="#000" textLength="49.6" lengthAdjust="spacingAndGlyphs" xml:space="preserve">22 Jul 04:00</text>
<rect x="325" y="816" width="1" height="3" fill="#000"/>
<text x="324.4" y="828" font-size="9.7" fill="#000" stroke="#000" textLength="49.6" lengthAdjust="spacingAndGlyphs" xml:space="preserve">24 Jul 23:00</text>
<rect x="389" y="816" width="1" height="3" fill="#000"/>
<text x="388.4" y="828" font-size="9.7" fill="#000" stroke="#000" textLength="49.6" lengthAdjust="spacingAndGlyphs" xml:space="preserve">25 Jul 12:00</text>
<rect x="453" y="816" width="1" height="3" fill="#000"/>
<text x="452.4" y="828" font-size="9.7" fill="#000" stroke="#000" textLength="49.6" lengthAdjust="spacingAndGlyphs" xml:space="preserve">26 Jul 04:00</text>
<rect x="517" y="816" width="1" height="3" fill="#000"/>
<text x="516.4" y="828" font-size="9.7" fill="#000" stroke="#000" textLength="49.6" lengthAdjust="spacingAndGlyphs" xml:space="preserve">26 Jul 20:00</text>
<rect x="581" y="816" width="1" height="3" fill="#000"/>
<text x="580.4" y="828" font-size="9.7" fill="#000" stroke="#000" textLength="49.6" lengthAdjust="spacingAndGlyphs" xml:space="preserve">27 Jul 12:00</text>
<rect x="645" y="816" width="1" height="3" fill="#000"/>
<text x="644.4" y="828" font-size="9.7" fill="#000" stroke="#000" textLength="49.6" lengthAdjust="spacingAndGlyphs" xml:space="preserve">28 Jul 04:00</text>
<rect x="709" y="816" width="1" height="3" fill="#000"/>
<text x="708.4" y="828" font-size="9.7" fill="#000" stroke="#000" textLength="49.6" lengthAdjust="spacingAndGlyphs" xml:space="preserve">28 Jul 20:00</text>
<rect x="773" y="816" width="1" height="3" fill="#000"/>
<text x="772.4" y="828" font-size="9.7" fill="#000" stroke="#000" textLength="49.6" lengthAdjust="spacingAndGlyphs" xml:space="preserve">29 Jul 12:00</text>
<rect x="837" y="816" width="1" height="3" fill="#000"/>
<text x="836.4" y="828" font-size="9.7" fill="#000" stroke="#000" textLength="50.0" lengthAdjust="spacingAndGlyphs" xml:space="preserve">1 Aug 04:00</text>
<rect x="901" y="816" width="1" height="3" fill="#000"/>
<text x="900.4" y="828" font-size="9.7" fill="#000" stroke="#000" textLength="50.0" lengthAdjust="spacingAndGlyphs" xml:space="preserve">1 Aug 20:00</text>
<rect x="965" y="816" width="1" height="3" fill="#000"/>
<text x="964.4" y="828" font-size="9.7" fill="#000" stroke="#000" textLength="50.0" lengthAdjust="spacingAndGlyphs" xml:space="preserve">2 Aug 12:00</text>
<rect x="1029" y="816" width="1" height="3" fill="#000"/>
<text x="1028.4" y="828" font-size="9.7" fill="#000" stroke="#000" textLength="50.0" lengthAdjust="spacingAndGlyphs" xml:space="preserve">3 Aug 04:00</text>
<rect x="1093" y="816" width="1" height="3" fill="#000"/>
<text x="1092.4" y="828" font-size="9.7" fill="#000" stroke="#000" textLength="50.0" lengthAdjust="spacingAndGlyphs" xml:space="preserve">3 Aug 20:00</text>
<rect x="1157" y="816" width="1" height="3" fill="#000"/>
<text x="1156.4" y="828" font-size="9.7" fill="#000" stroke="#000" textLength="50.0" lengthAdjust="spacingAndGlyphs" xml:space="preserve">4 Aug 12:00</text>
<rect x="1221" y="816" width="1" height="3" fill="#000"/>
<text x="1220.4" y="828" font-size="9.7" fill="#000" stroke="#000" textLength="50.0" lengthAdjust="spacingAndGlyphs" xml:space="preserve">5 Aug 04:00</text>
<rect x="1285" y="816" width="1" height="3" fill="#000"/>
<text x="1284.4" y="828" font-size="9.7" fill="#000" stroke="#000" textLength="50.0" lengthAdjust="spacingAndGlyphs" xml:space="preserve">7 Aug 23:00</text>
<rect x="1349" y="816" width="1" height="3" fill="#000"/>
<text x="1348.4" y="828" font-size="9.7" fill="#000" stroke="#000" textLength="50.0" lengthAdjust="spacingAndGlyphs" xml:space="preserve">8 Aug 12:00</text>
<g>
<rect x="213" y="0" width="1" height="17" fill="#a0a0a0"/>
<rect x="214" y="0" width="1" height="17" fill="#ffffff"/>
<rect x="581" y="0" width="1" height="17" fill="#a0a0a0"/>
<rect x="582" y="0" width="1" height="17" fill="#ffffff"/>
<rect x="887" y="0" width="1" height="17" fill="#a0a0a0"/>
<rect x="888" y="0" width="1" height="17" fill="#ffffff"/>
<rect x="1148" y="0" width="1" height="17" fill="#a0a0a0"/>
<rect x="1149" y="0" width="1" height="17" fill="#ffffff"/>
<rect x="308" y="0" width="1" height="16" fill="#a0a0a0"/>
<rect x="309" y="0" width="1" height="16" fill="#fbfbfb"/>
<rect x="398" y="0" width="1" height="16" fill="#a0a0a0"/>
<rect x="399" y="0" width="1" height="16" fill="#fbfbfb"/>
<rect x="460" y="0" width="1" height="16" fill="#a0a0a0"/>
<rect x="461" y="0" width="1" height="16" fill="#fbfbfb"/>
<rect x="648" y="0" width="1" height="16" fill="#a0a0a0"/>
<rect x="649" y="0" width="1" height="16" fill="#fbfbfb"/>
<rect x="217" y="0" width="3" height="1" fill="#a6a6a6"/>
<rect x="217" y="2" width="3" height="1" fill="#a6a6a6"/>
<rect x="217" y="4" width="3" height="1" fill="#a6a6a6"/>
<rect x="217" y="6" width="3" height="1" fill="#a6a6a6"/>
<rect x="217" y="8" width="3" height="1" fill="#a6a6a6"/>
<rect x="217" y="10" width="3" height="1" fill="#a6a6a6"/>
<rect x="217" y="12" width="3" height="1" fill="#a6a6a6"/>
<rect x="217" y="14" width="3" height="1" fill="#a6a6a6"/>
<rect x="585" y="0" width="3" height="1" fill="#a6a6a6"/>
<rect x="585" y="2" width="3" height="1" fill="#a6a6a6"/>
<rect x="585" y="4" width="3" height="1" fill="#a6a6a6"/>
<rect x="585" y="6" width="3" height="1" fill="#a6a6a6"/>
<rect x="585" y="8" width="3" height="1" fill="#a6a6a6"/>
<rect x="585" y="10" width="3" height="1" fill="#a6a6a6"/>
<rect x="585" y="12" width="3" height="1" fill="#a6a6a6"/>
<rect x="585" y="14" width="3" height="1" fill="#a6a6a6"/>
<rect x="891" y="0" width="3" height="1" fill="#a6a6a6"/>
<rect x="891" y="2" width="3" height="1" fill="#a6a6a6"/>
<rect x="891" y="4" width="3" height="1" fill="#a6a6a6"/>
<rect x="891" y="6" width="3" height="1" fill="#a6a6a6"/>
<rect x="891" y="8" width="3" height="1" fill="#a6a6a6"/>
<rect x="891" y="10" width="3" height="1" fill="#a6a6a6"/>
<rect x="891" y="12" width="3" height="1" fill="#a6a6a6"/>
<rect x="891" y="14" width="3" height="1" fill="#a6a6a6"/>
<rect x="252" y="0" width="25" height="16" fill="#f9f9f9"/>
<rect x="251" y="0" width="1" height="16" fill="#a0a0a0"/>
<rect x="277" y="0" width="1" height="16" fill="#ffffff"/>
<rect x="251" y="16" width="27" height="1" fill="#ffffff"/>
<rect x="404" y="0" width="25" height="16" fill="#f9f9f9"/>
<rect x="403" y="0" width="1" height="16" fill="#a0a0a0"/>
<rect x="429" y="0" width="1" height="16" fill="#ffffff"/>
<rect x="403" y="16" width="27" height="1" fill="#ffffff"/>
<rect x="432" y="0" width="25" height="16" fill="#f9f9f9"/>
<rect x="431" y="0" width="1" height="16" fill="#a0a0a0"/>
<rect x="457" y="0" width="1" height="16" fill="#ffffff"/>
<rect x="431" y="16" width="27" height="1" fill="#ffffff"/>
<rect x="592" y="0" width="25" height="16" fill="#f9f9f9"/>
<rect x="591" y="0" width="1" height="16" fill="#a0a0a0"/>
<rect x="617" y="0" width="1" height="16" fill="#ffffff"/>
<rect x="591" y="16" width="27" height="1" fill="#ffffff"/>
<rect x="1038" y="0" width="25" height="16" fill="#f9f9f9"/>
<rect x="1037" y="0" width="1" height="16" fill="#a0a0a0"/>
<rect x="1063" y="0" width="1" height="16" fill="#ffffff"/>
<rect x="1037" y="16" width="27" height="1" fill="#ffffff"/>
<g shape-rendering="geometricPrecision" fill="none">
<rect x="0" y="8.2" width="2.7" height="3.6" fill="#12b312" stroke="#0a8a0a" stroke-width="0.5"/>
<path d="M6 2.9H12 M6 5.5H12 M9 0V9.6 M7.3 6.6L6.2 8.8 M10.6 6.6L11.8 8.6 M7 0.3L7.8 2 M11 0.3L10.2 2 M13 2.9H18 M13.5 0V5.5Q13.5 8 12.3 9.6 M16 3V9.8 M13.5 0.4L17.5 0" stroke="#000" stroke-width="1.0" fill="none" stroke-linecap="butt"/>
<path d="M18.3 2.9H20.5V8.2L22.6 6.6 M19.2 0L20.2 0.8 M22.6 0.4H30 M26.6 0.4V9.4H23.4" stroke="#000" stroke-width="1.0" fill="none" stroke-linecap="butt"/>
<path d="M31.5 1.5H40.5V5.4H31.5Z M31.5 3.5H40.5 M30 7.5H42 M36 0V10.2 M33 0L34 1 M39 0L38 1" stroke="#000" stroke-width="1.0" fill="none" stroke-linecap="butt"/>
<defs><linearGradient id="gold" x1="0" y1="0" x2="1" y2="1"><stop offset="0" stop-color="#f6d24a"/><stop offset="0.6" stop-color="#e3ad1c"/><stop offset="1" stop-color="#b57a12"/></linearGradient><linearGradient id="blu" x1="0" y1="0" x2="0" y2="1"><stop offset="0" stop-color="#58b0f8"/><stop offset="1" stop-color="#1878d8"/></linearGradient><radialGradient id="lens" cx="0.4" cy="0.35" r="0.7"><stop offset="0" stop-color="#f4fbff"/><stop offset="1" stop-color="#b8dcf6"/></radialGradient><linearGradient id="redb" x1="0" y1="0" x2="0" y2="1"><stop offset="0" stop-color="#e64a2a"/><stop offset="1" stop-color="#d82010"/></linearGradient><linearGradient id="grn" x1="0" y1="0" x2="0" y2="1"><stop offset="0" stop-color="#5fe05f"/><stop offset="1" stop-color="#0c9c0c"/></linearGradient><linearGradient id="clk" x1="0" y1="0" x2="0" y2="1"><stop offset="0" stop-color="#2e86e8"/><stop offset="1" stop-color="#0c52b8"/></linearGradient></defs>
<defs><linearGradient id="gold2" x1="0" y1="0" x2="1" y2="0.6"><stop offset="0" stop-color="#eab414"/><stop offset="0.55" stop-color="#f7d640"/><stop offset="1" stop-color="#fff08a"/></linearGradient><linearGradient id="cld" x1="0" y1="0" x2="0" y2="1"><stop offset="0" stop-color="#ffffff"/><stop offset="0.45" stop-color="#f4f6fb"/><stop offset="1" stop-color="#b4c0da"/></linearGradient><linearGradient id="blu2" x1="0" y1="0" x2="1" y2="0"><stop offset="0" stop-color="#1696f4"/><stop offset="1" stop-color="#54b8fc"/></linearGradient></defs>
<polygon points="62.1,11.1 68.5,5.5 70,7.2 61.5,13.8" fill="#d9c78c" stroke="#9a5e0c" stroke-width="0.8"/>
<polygon points="54.1,7.9 54.7,7 62.1,11.1 61.5,13.8" fill="#d9a428" stroke="#9a5e0c" stroke-width="0.8"/>
<path d="M55 8.1L61.6 12" stroke="#f6dc8c" stroke-width="0.8"/>
<path d="M59.6 -1Q59.2 2.4 57.6 4.2L54.7 7.3L62.1 11.2L68.6 5.4L62.4 -1Z" fill="url(#gold2)" stroke="#9a5e0c" stroke-width="0.8"/>
<rect x="84.3" y="-2" width="10.5" height="10" fill="url(#blu2)"/>
<rect x="88.6" y="1.2" width="6.2" height="3" fill="#6cc6ff"/>
<path d="M87.5 -1V7" stroke="#ecf7ff" stroke-width="0.8"/><path d="M89.2 3.3H92.8" stroke="#ffffff" stroke-width="0.8"/>
<path d="M85 13.6A2.7 2.7 0 0 1 83.4 9.2A2.6 2.6 0 0 1 86.6 8.2A3.6 3.6 0 0 1 93.2 7.8A2.7 2.7 0 0 1 97.2 10A2 2 0 0 1 96 13.6Z" fill="url(#cld)" stroke="#5a70a8" stroke-width="0.9"/>
<path d="M84.6 13.7H96.2" stroke="#3f5a96" stroke-width="0.8"/>
<defs><linearGradient id="sgg" x1="0" y1="0" x2="1" y2="1"><stop offset="0" stop-color="#e6f0e4"/><stop offset="1" stop-color="#7fbf7f"/></linearGradient></defs>
<path d="M118 -2A7.8 7.8 0 0 1 118.6 13.5L118.6 6Z" fill="url(#sgg)"/>
<circle cx="118" cy="5.8" r="7.6" stroke="#5f86d4" stroke-width="1" stroke-dasharray="2.2 0.8" opacity="0.85"/>
<circle cx="118" cy="5.8" r="4.6" stroke="#5f86d4" stroke-width="1" stroke-dasharray="2 0.7" opacity="0.9"/>
<path d="M120.5 -1.4A7.6 7.6 0 0 1 120.6 12.9" stroke="#4f8f7f" stroke-width="1.1"/>
<path d="M120 1.7A4.6 4.6 0 0 1 120.4 9.7" stroke="#6aa080" stroke-width="1"/>
<circle cx="117.8" cy="5.6" r="1.9" fill="#2a5cd0"/>
<path d="M118.5 6.2V13.8" stroke="#1aa81a" stroke-width="1.5"/>
<polygon points="137.6,4.6 152.6,4.6 148,12.6 144.2,13.2" fill="#f8dc58" stroke="#d8a820" stroke-width="0.6"/>
<path d="M137.4 3.4Q137.6 1 142 0.4Q143 -2.5 145.4 -2.5Q148 -2.5 149 0.4Q153 1.2 153 3.2Q150 5.6 145 5.4Q140 5.6 137.4 3.4Z" fill="#56b0e6" stroke="#2f88c8" stroke-width="0.6"/>
<circle cx="149.6" cy="9.8" r="4" fill="#de2410" stroke="#b81808" stroke-width="0.5"/>
<rect x="148.1" y="8.3" width="3" height="3" fill="#fff"/>
<path d="M159.6 0V9.5 M167.7 0V9.5 M159.6 1.5H167.7 M159.6 3.9H167.7 M159.6 6.2H167.7 M159.6 9H167.7" stroke="#000" stroke-width="1.0" fill="none" stroke-linecap="butt"/>
<path d="M171 0.2H177.4 M170.4 3.4H178 M174.6 3.6L172 8.2H176.8 M175.6 6.4L177.4 9.2 M177.6 1.8H181.2V8.4Q181.2 9.6 178.6 9.4 M179 0V3Q178.6 7 176.8 9.6" stroke="#000" stroke-width="1.0" fill="none" stroke-linecap="butt"/>
<path d="M182.3 1.5H193.8 M188 0V1.4 M185.8 3L184 5 M190 3L192 5 M191.2 5.2Q188 9 182.8 9.6 M184.8 5.2Q188 9 193.6 9.6" stroke="#000" stroke-width="1.0" fill="none" stroke-linecap="butt"/>
<path d="M196.4 -1V2.9H204.4V-1 M196.4 0.9H204.4 M197.6 4.2L195.4 6.4 M196.6 5.4H204.8V8.6Q204.8 9.6 203 9.4 M200 5.6L196 9.4 M202.6 5.6L199 9.6" stroke="#000" stroke-width="1.0" fill="none" stroke-linecap="butt"/>
<path d="M231.5 0V13.5 M229 11.5H241.5" stroke="#555" stroke-width="1.1"/>
<polygon points="240.6,9.9 243.2,11.5 240.6,13.1" fill="#555"/>
<polygon points="229.6,2 231.5,-1 233.4,2" fill="#555"/>
<path d="M237.5 1.4V9.6 M237.5 2.6H240 M235 8.5H237.5" stroke="#0d9a0d" stroke-width="1.2"/>
<path d="M259.5 0V13.5 M257 11.5H269.5" stroke="#555" stroke-width="1.1"/>
<polygon points="268.6,9.9 271.2,11.5 268.6,13.1" fill="#555"/>
<polygon points="257.6,2 259.5,-1 261.4,2" fill="#555"/>
<path d="M265.5 6V9.8" stroke="#0d9a0d" stroke-width="1.1"/><rect x="263.3" y="-1" width="4.4" height="8.5" fill="url(#grn)" stroke="#0a900a" stroke-width="0.8"/>
<path d="M287.5 0V13.5 M285 11.5H297.5" stroke="#555" stroke-width="1.1"/>
<polygon points="296.6,9.9 299.2,11.5 296.6,13.1" fill="#555"/>
<polygon points="285.6,2 287.5,-1 289.4,2" fill="#555"/>
<path d="M286.2 8.6Q289.6 5.6 291.4 3.6Q292.4 2.6 293.6 3.8Q295.6 6 297.6 7" stroke="#2a9a2a" stroke-width="1.1"/>
<path d="M326.6 7.6L331.6 12.6" stroke="#b88a10" stroke-width="3" stroke-linecap="butt"/>
<path d="M326.8 7.6L331.4 12.2" stroke="#f2d648" stroke-width="1.5" stroke-linecap="butt"/>
<circle cx="323" cy="3.9" r="5.6" fill="url(#lens)" stroke="#4a8ad0" stroke-width="1"/>
<path d="M319.6 4H326.4 M323 0.6V7.4" stroke="#3a86b4" stroke-width="1.5"/>
<path d="M354.6 7.6L359.6 12.6" stroke="#b88a10" stroke-width="3" stroke-linecap="butt"/>
<path d="M354.8 7.6L359.4 12.2" stroke="#f2d648" stroke-width="1.5" stroke-linecap="butt"/>
<circle cx="351" cy="3.9" r="5.6" fill="url(#lens)" stroke="#4a8ad0" stroke-width="1"/>
<path d="M347.8 4H354.2" stroke="#3a86b4" stroke-width="1.5"/>
<rect x="373.2" y="-1" width="7.6" height="7" rx="0.6" fill="#3ea51e"/>
<rect x="373.2" y="-1" width="7.6" height="2" fill="#2c8a12"/>
<rect x="374.2" y="1.6" width="5.6" height="3.6" fill="#fff"/>
<rect x="375.2" y="2.4" width="3.6" height="1" fill="#3ea51e" opacity="0.55"/>
<rect x="381.4" y="-1" width="7.6" height="7" rx="0.6" fill="#2a5ed0"/>
<rect x="381.4" y="-1" width="7.6" height="2" fill="#1c48b0"/>
<rect x="382.4" y="1.6" width="5.6" height="3.6" fill="#fff"/>
<rect x="383.4" y="2.4" width="3.6" height="1" fill="#2a5ed0" opacity="0.55"/>
<rect x="373.2" y="6.2" width="7.6" height="7" rx="0.6" fill="#2a5ed0"/>
<rect x="373.2" y="6.2" width="7.6" height="2" fill="#1c48b0"/>
<rect x="374.2" y="8.8" width="5.6" height="3.6" fill="#fff"/>
<rect x="375.2" y="9.6" width="3.6" height="1" fill="#2a5ed0" opacity="0.55"/>
<rect x="381.4" y="6.2" width="7.6" height="7" rx="0.6" fill="#3ea51e"/>
<rect x="381.4" y="6.2" width="7.6" height="2" fill="#2c8a12"/>
<rect x="382.4" y="8.8" width="5.6" height="3.6" fill="#fff"/>
<rect x="383.4" y="9.6" width="3.6" height="1" fill="#3ea51e" opacity="0.55"/>
<path d="M411.5 0V13.5 M409 11.5H421.5" stroke="#555" stroke-width="1.1"/>
<polygon points="420.6,9.9 423.2,11.5 420.6,13.1" fill="#555"/>
<polygon points="409.6,2 411.5,-1 413.4,2" fill="#555"/>
<polygon points="416.2,1.8 420.2,5.4 416.2,8.8" fill="#58d058" stroke="#0d9a0d" stroke-width="0.9"/>
<path d="M439.5 0V13.5 M437 11.5H449.5" stroke="#555" stroke-width="1.1"/>
<polygon points="448.6,9.9 451.2,11.5 448.6,13.1" fill="#555"/>
<polygon points="437.6,2 439.5,-1 441.4,2" fill="#555"/>
<path d="M445.5 -1V9.8" stroke="#1c6ea8" stroke-width="1.3"/>
<path d="M447 5.5H451.2" stroke="#e05a10" stroke-width="1.1"/><polygon points="446.2,5.5 449.8,2.9 449,5.5 449.8,8.1" fill="#e05a10"/>
<path d="M470.5 -1V10.6Q470.5 11.4 471.4 11.4H480.6V0.8L478.6 -1" fill="#fbfbfb" stroke="#9a9a9a" stroke-width="0.8"/>
<path d="M473.2 2.4Q472.4 4.6 473.2 7.4" stroke="#555" stroke-width="1"/>
<path d="M480.6 4.6V15.4 M474.8 10H486.2" stroke="#0b8a0b" stroke-width="4.4"/>
<path d="M480.6 5.2V14.8 M475.4 10H485.6" stroke="#2fd42f" stroke-width="3"/>
<polygon points="491.8,4.8 497.4,4.8 494.6,8.2" fill="#000"/>
<polygon points="530.8,4.8 536.4,4.8 533.6,8.2" fill="#000"/>
<polygon points="569.8,4.8 575.4,4.8 572.6,8.2" fill="#000"/>
<polygon points="875.8,4.8 881.4,4.8 878.6,8.2" fill="#000"/>
<circle cx="516" cy="5.4" r="6.9" fill="#fbfdff" stroke="url(#clk)" stroke-width="2.8"/>
<path d="M515.6 1.4V5.8H518.4" stroke="#333" stroke-width="1.1"/>
<path d="M516 10.2V11 M511.2 5.6H512 M520 5.6H520.8 M512.8 2.4L513.3 2.9 M519.2 2.4L518.7 2.9 M512.8 8.6L513.3 8.1 M519.2 8.6L518.7 8.1" stroke="#777" stroke-width="0.7"/>
<rect x="547.4" y="-2" width="15.4" height="14.6" fill="#fff" stroke="#3c78c8" stroke-width="1"/>
<rect x="547.4" y="-2" width="15.4" height="3.4" fill="#4a8adc"/>
<path d="M548 7.2H562.4" stroke="#3c78c8" stroke-width="0.9"/>
<path d="M549.2 5.4H550.6L553.4 3.6H555L556.4 4.4H558.4L560.4 3.4H561.6" stroke="#a82814" stroke-width="1.1"/>
<path d="M549.8 10.4H551L552.6 9.2L554.2 10.4H555.6L557.8 8.2L560.4 10.6" stroke="#1a9a1a" stroke-width="1.1"/>
<polygon points="599.2,-1 599.2,9.6 601.6,7.6 604.4,13.2 605.8,12.4 603.2,7 606.8,6.4" fill="#4c4c4c"/>
<path d="M631.5 0V5 M631.5 8V13.8 M624.2 6.5H630 M633 6.5H638.8" stroke="#505050" stroke-width="1.1"/><rect x="631" y="6" width="1" height="1" fill="#505050"/>
<path d="M665.5 -1V13" stroke="#505050" stroke-width="1.1"/>
<path d="M688 6.5H700" stroke="#505050" stroke-width="1.1"/>
<path d="M715.8 13L728.2 0.8" stroke="#505050" stroke-width="1.1"/>
<path d="M742 8.2L751.4 -1 M743.4 12.4L756 0 M746.6 13.2L756.4 3.8" stroke="#505050" stroke-width="0.9"/>
<path d="M745.6 5V10.6 M748 2.6V8.4 M750.6 0.4V6 M753 -1V3.8" stroke="#505050" stroke-width="0.9"/>
<path d="M756.8 10.4H753.4V15H756.8 M753.4 12.6H756.2" stroke="#333" stroke-width="1.1"/>
<path d="M771 2.5H786 M771 6.5H786 M771 10.5H780" stroke="#505050" stroke-width="1" stroke-dasharray="1 1"/>
<path d="M784.8 10.4H781.4V15 M781.4 12.6H784.2" stroke="#333" stroke-width="1.1"/>
<path d="M802.2 10.8L805.6 2.6L809 10.8 M803.4 8.2H807.8" stroke="#505050" stroke-width="1.2"/>
<path d="M828.3 -1V12.4H839.4V-1" stroke="#505050" stroke-width="1" stroke-dasharray="1 1"/>
<path d="M830.2 3.4H837.8 M834 3.4V11" stroke="#505050" stroke-width="1.4"/>
<polygon points="855.4,3.2 858.6,-0.6 861.8,3.2 858.6,4.6" fill="#505050"/>
<polygon points="862,9.4 868.8,9.4 865.4,13 " fill="#505050"/><polygon points="863.4,8.2 867.4,8.2 865.4,6.6" fill="#505050"/>
<path d="M857.2 7.4L859.4 9.4L863.6 4.6" stroke="#505050" stroke-width="1.1"/>
<path d="M1615.6 6.4L1611 11.2" stroke="#2a5fd0" stroke-width="2.7" stroke-linecap="butt"/>
<circle cx="1618.8" cy="3.4" r="4" fill="#f6f9ff" stroke="#2f62d6" stroke-width="1.1"/>
<path d="M1636 5.2Q1638 2.6 1643 3Q1648 3 1648 8Q1647.6 11.8 1641.6 11.8L1638.4 14.4L1638.6 11.4Q1634.6 10 1636 5.2Z" fill="#e6e8f0" stroke="#a2a4ae" stroke-width="0.9"/>
<circle cx="1649.6" cy="3.2" r="8.3" fill="url(#redb)"/>
</g>
<text x="902.6" y="10" font-size="9.7" fill="#3c3c3c" textLength="12.4" lengthAdjust="spacingAndGlyphs">M1</text>
<text x="930.8" y="10" font-size="9.7" fill="#3c3c3c" textLength="12.4" lengthAdjust="spacingAndGlyphs">M5</text>
<text x="956.4" y="10" font-size="9.7" fill="#3c3c3c" textLength="17.6" lengthAdjust="spacingAndGlyphs">M15</text>
<text x="984.6" y="10" font-size="9.7" fill="#3c3c3c" textLength="17.6" lengthAdjust="spacingAndGlyphs">M30</text>
<text x="1015.4" y="10" font-size="9.7" fill="#3c3c3c" textLength="11.6" lengthAdjust="spacingAndGlyphs">H1</text>
<text x="1042.4" y="10" font-size="9.7" fill="#3c3c3c" textLength="12.6" lengthAdjust="spacingAndGlyphs">H4</text>
<text x="1071.6" y="10" font-size="9.7" fill="#3c3c3c" textLength="11.6" lengthAdjust="spacingAndGlyphs">D1</text>
<text x="1099" y="10" font-size="9.7" fill="#3c3c3c" textLength="14.2" lengthAdjust="spacingAndGlyphs">W1</text>
<text x="1125.4" y="10" font-size="9.7" fill="#3c3c3c" textLength="14.6" lengthAdjust="spacingAndGlyphs">MN</text>
<g shape-rendering="geometricPrecision"><path d="M1647.4 -1H1649.6V6.9Q1649.7 7.3 1651.2 7.4V8H1645.8V7.4Q1647.3 7.3 1647.4 6.9V1.2L1645.7 1.7V1.1Z" fill="#fff"/></g>
</g>
</svg>
</body></html>
